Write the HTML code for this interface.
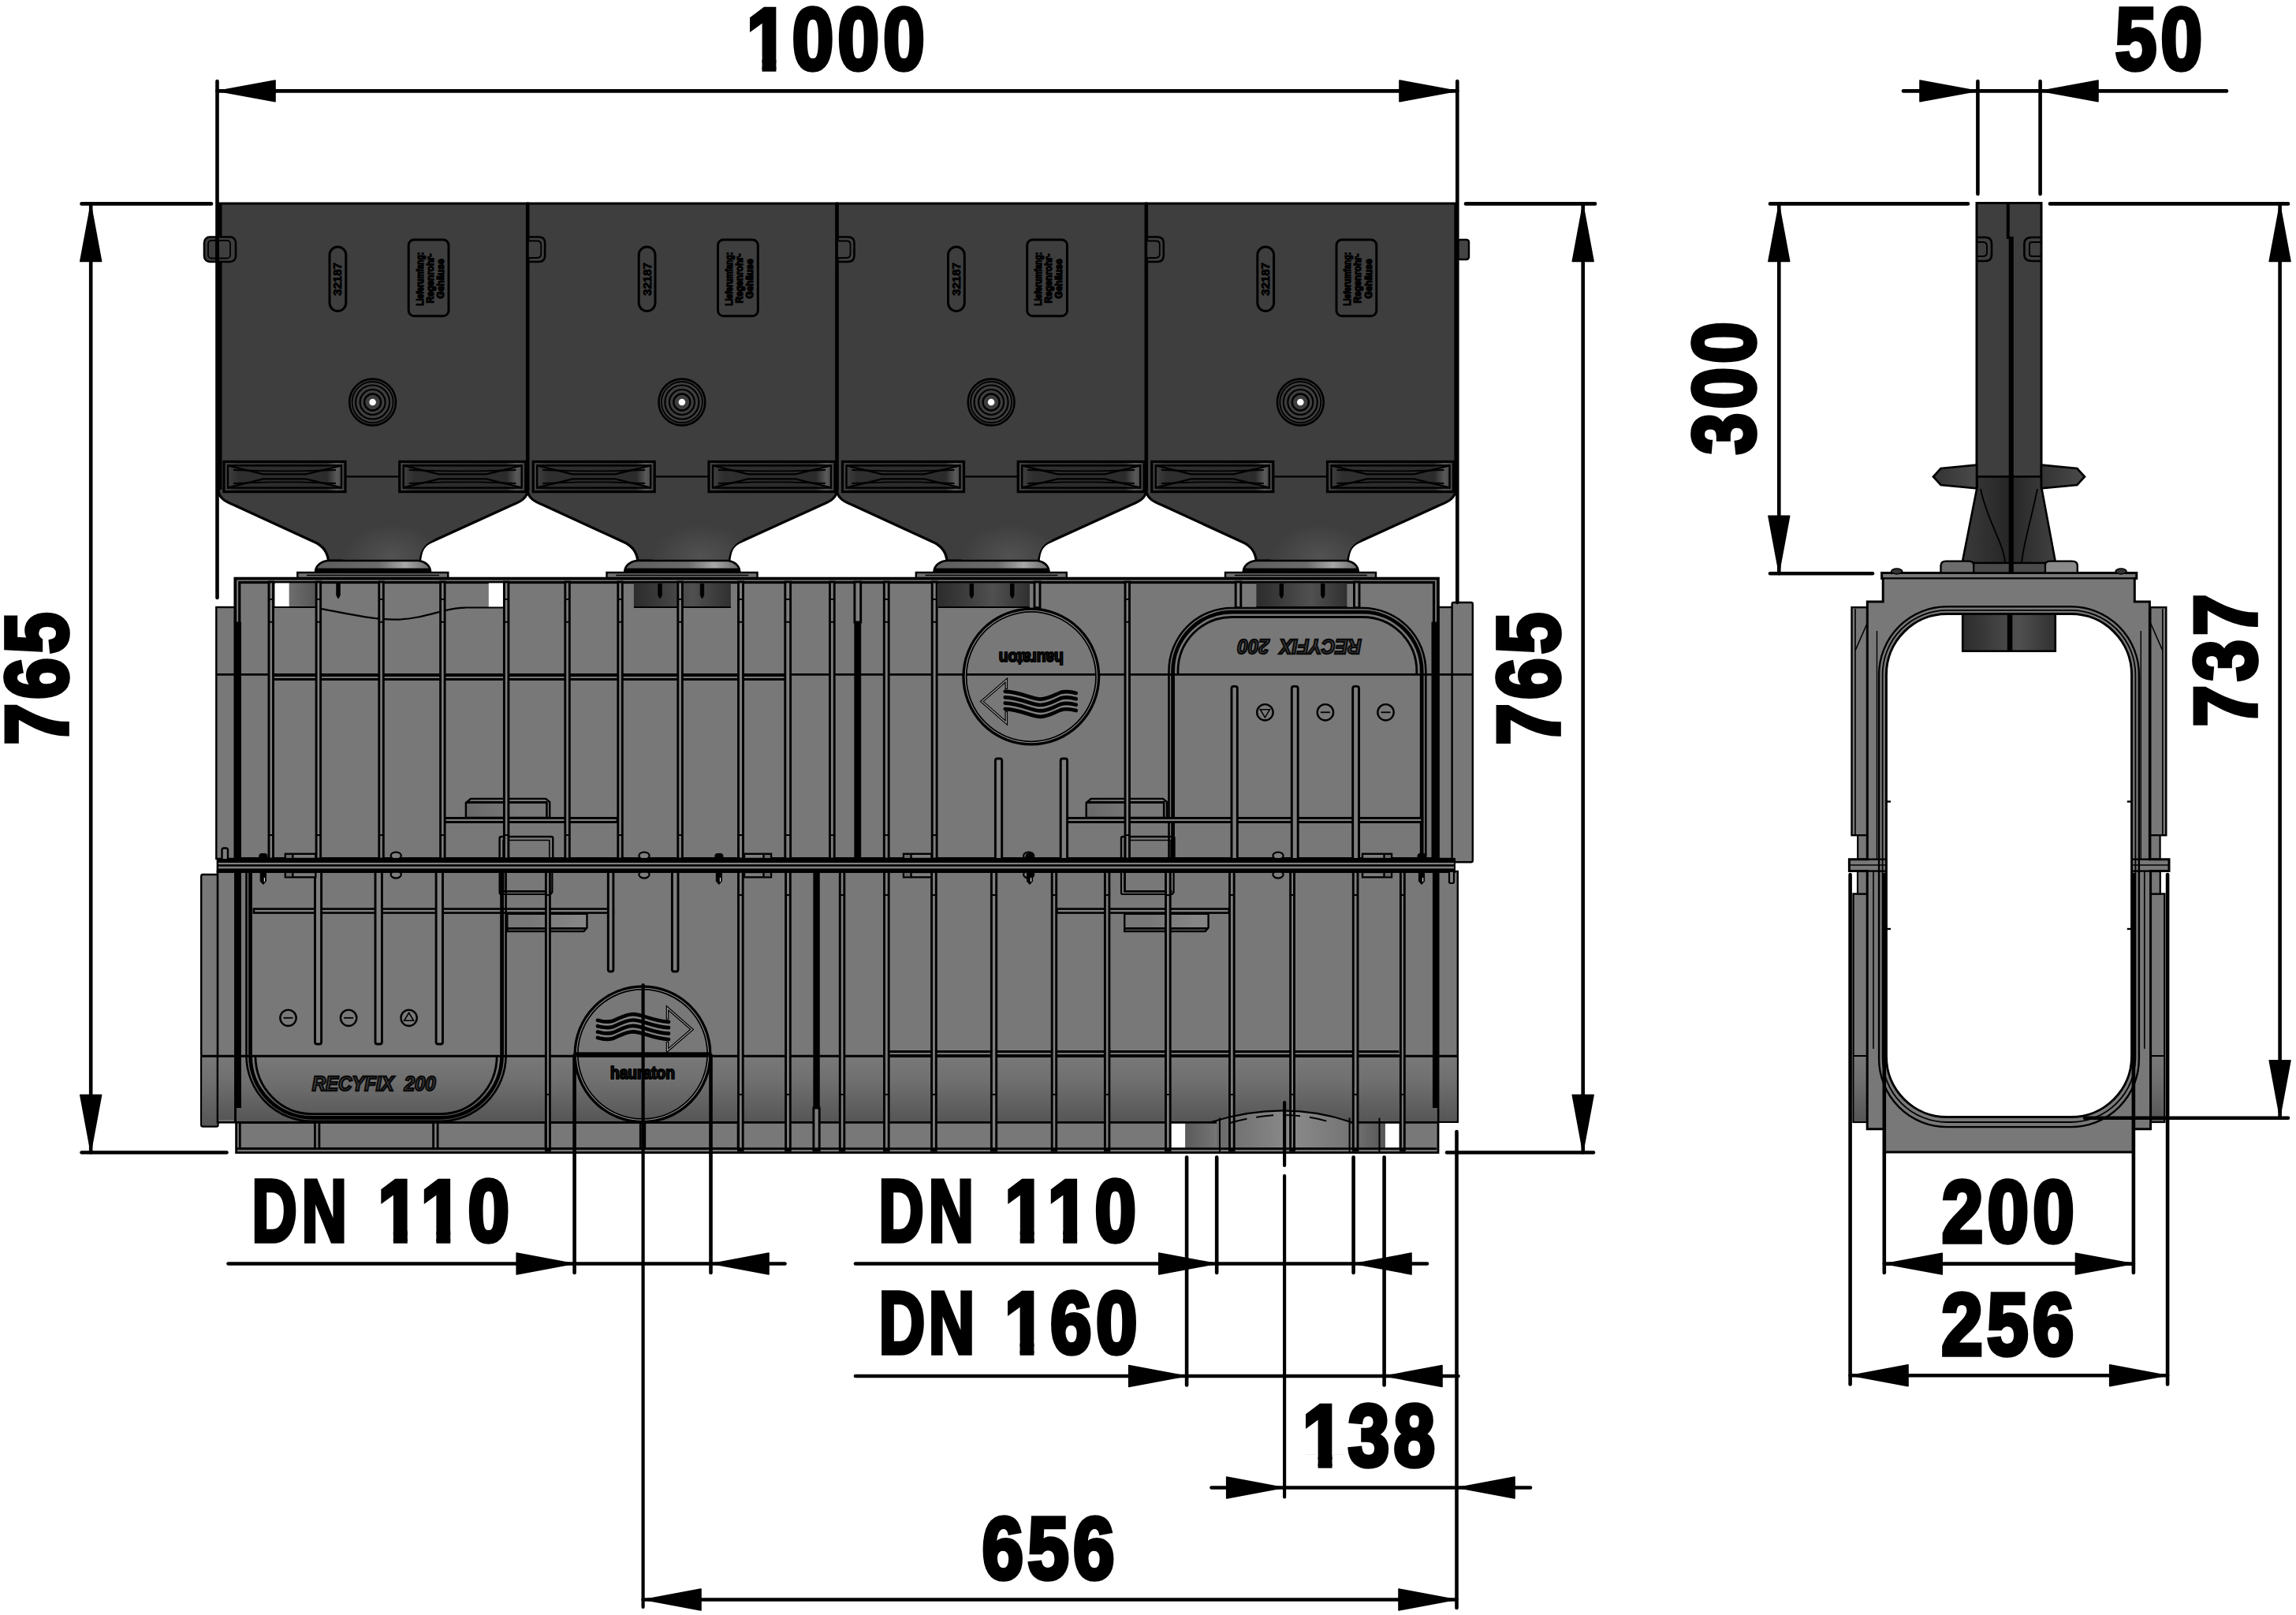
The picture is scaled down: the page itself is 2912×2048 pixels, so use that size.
<!DOCTYPE html>
<html lang="de"><head><meta charset="utf-8"><title>RECYFIX 200 – Maßzeichnung</title>
<style>
html,body{margin:0;padding:0;background:#fff;}
body{width:2912px;height:2048px;overflow:hidden;}
svg{display:block;}
text{font-family:"Liberation Sans",sans-serif;}
</style></head><body>
<svg width="2912" height="2048" viewBox="0 0 2912 2048">
<rect x="0" y="0" width="2912" height="2048" fill="#fff"/>
<defs>
<linearGradient id="gPipe" x1="0" x2="1" y1="0" y2="0"><stop offset="0" stop-color="#2c2c2c"/><stop offset="0.25" stop-color="#3a3a3a"/><stop offset="0.6" stop-color="#505050"/><stop offset="1" stop-color="#303030"/></linearGradient>
<linearGradient id="gStub" x1="0" x2="1" y1="0" y2="0"><stop offset="0" stop-color="#6e6e6e"/><stop offset="1" stop-color="#565656"/></linearGradient>
<linearGradient id="gStub2" x1="0" x2="1" y1="0" y2="0"><stop offset="0" stop-color="#5a5a5a"/><stop offset="1" stop-color="#747474"/></linearGradient>
<linearGradient id="gLow" x1="0" x2="0" y1="0" y2="1"><stop offset="0" stop-color="#787878"/><stop offset="0.35" stop-color="#707070"/><stop offset="1" stop-color="#565656"/></linearGradient>
<linearGradient id="gCollar" x1="0" x2="1" y1="0" y2="0"><stop offset="0" stop-color="#5c5c5c"/><stop offset="0.55" stop-color="#6c6c6c"/><stop offset="0.78" stop-color="#a8a8a8"/><stop offset="1" stop-color="#666"/></linearGradient>
<radialGradient id="gFun" cx="0.5" cy="0.5" r="0.5"><stop offset="0" stop-color="#525252"/><stop offset="1" stop-color="#3e3e3e"/></radialGradient>
<linearGradient id="gSlot" x1="0" x2="1" y1="0" y2="0"><stop offset="0" stop-color="#444"/><stop offset="0.12" stop-color="#2e2e2e"/><stop offset="0.85" stop-color="#2b2b2b"/><stop offset="0.93" stop-color="#5a5a5a"/><stop offset="1" stop-color="#3a3a3a"/></linearGradient>
<linearGradient id="gFin" x1="0" x2="1" y1="0" y2="0"><stop offset="0" stop-color="#333"/><stop offset="1" stop-color="#4a4a4a"/></linearGradient>
<linearGradient id="gCone" x1="0" x2="1" y1="0" y2="0"><stop offset="0" stop-color="#3a3a3a"/><stop offset="0.5" stop-color="#262626"/><stop offset="1" stop-color="#404040"/></linearGradient>
</defs>
<defs>
<clipPath id="clipF0"><path d="M298.0,641 L397.0,686 C411.0,692 415.0,702 416.5,711 H531.5 C533.0,702 535.0,692 547.0,686 L648.2,641 Z"/></clipPath>
<clipPath id="clipF1"><path d="M690.2,641 L789.2,686 C803.2,692 807.2,702 808.8,711 H923.8 C925.2,702 927.2,692 939.2,686 L1040.5,641 Z"/></clipPath>
<clipPath id="clipF2"><path d="M1082.5,641 L1181.5,686 C1195.5,692 1199.5,702 1201.0,711 H1316.0 C1317.5,702 1319.5,692 1331.5,686 L1432.8,641 Z"/></clipPath>
<clipPath id="clipF3"><path d="M1474.8,641 L1573.8,686 C1587.8,692 1591.8,702 1593.2,711 H1708.2 C1709.8,702 1711.8,692 1723.8,686 L1825.0,641 Z"/></clipPath>
</defs>
<rect x="274.3" y="770.0" width="24.0" height="319.0" fill="#787878" stroke="#000" stroke-width="2.4" />
<rect x="1824.0" y="770.0" width="19.0" height="319.0" fill="#787878" stroke="#000" stroke-width="2.4" />
<rect x="1841.6" y="764.0" width="26.2" height="329.3" fill="#787878" stroke="#000" stroke-width="2.4" rx="2" />
<rect x="298.3" y="733.6" width="1525.7" height="355.4" fill="#787878" stroke="#000" stroke-width="3.7" />
<rect x="303.8" y="738.6" width="1514.7" height="350.4" fill="none" stroke="#000" stroke-width="3.2" />
<rect x="348.8" y="739.4" width="18.0" height="30.6" fill="#fff" stroke="none" stroke-width="0" />
<rect x="619.8" y="739.4" width="18.8" height="30.6" fill="#fff" stroke="none" stroke-width="0" />
<rect x="366.8" y="739.4" width="33.5" height="30.6" fill="url(#gStub)" stroke="none" stroke-width="0" />
<line x1="346.0" y1="770.0" x2="400.0" y2="770.0" stroke="#000" stroke-width="2" />
<line x1="590.0" y1="770.6" x2="638.0" y2="770.6" stroke="#000" stroke-width="2" />
<path d="M406.8,771.9 C440,778 470,785.5 500.9,785.7 C525,785.5 545,779 563,774.5 C575,771.5 583,770.6 590,770.6" fill="none" stroke="#000" stroke-width="2.2" />
<rect x="803.9" y="739.4" width="123.0" height="30.6" fill="url(#gPipe)" stroke="none" stroke-width="0" />
<line x1="803.9" y1="770.0" x2="926.9" y2="770.0" stroke="#000" stroke-width="2" />
<rect x="1190.0" y="739.4" width="116.0" height="30.6" fill="url(#gPipe)" stroke="none" stroke-width="0" />
<line x1="1190.0" y1="770.0" x2="1306.0" y2="770.0" stroke="#000" stroke-width="2" />
<rect x="1593.4" y="739.4" width="115.0" height="30.6" fill="url(#gPipe)" stroke="none" stroke-width="0" />
<line x1="1593.4" y1="770.0" x2="1708.4" y2="770.0" stroke="#000" stroke-width="2" />
<path d="M834.8,740 V755 L837,759 L839.2,755 V740" fill="#000" stroke="#000" stroke-width="1" />
<path d="M888.3,740 V755 L890.5,759 L892.7,755 V740" fill="#000" stroke="#000" stroke-width="1" />
<path d="M1230.1,740 V755 L1232.3,759 L1234.5,755 V740" fill="#000" stroke="#000" stroke-width="1" />
<path d="M1281.6,740 V755 L1283.8,759 L1286.0,755 V740" fill="#000" stroke="#000" stroke-width="1" />
<path d="M1623.1,740 V755 L1625.3,759 L1627.5,755 V740" fill="#000" stroke="#000" stroke-width="1" />
<path d="M1675.6,740 V755 L1677.8,759 L1680.0,755 V740" fill="#000" stroke="#000" stroke-width="1" />
<path d="M426.8,740 V755 L429,759 L431.2,755 V740" fill="#000" stroke="#000" stroke-width="1" />
<line x1="274.3" y1="855.4" x2="1867.8" y2="855.4" stroke="#000" stroke-width="2.8" />
<rect x="347.0" y="854.0" width="649.0" height="4.0" fill="#000" stroke="none" stroke-width="0" />
<rect x="347.0" y="860.0" width="649.0" height="3.0" fill="#000" stroke="none" stroke-width="0" />
<path d="M1482.5,1089 V851.0 A80.0,80.0 0 0 1 1562.5,771.0 H1728.3 A80.0,80.0 0 0 1 1808.3,851.0 V1089" fill="none" stroke="#000" stroke-width="2.6" />
<path d="M1487.6,1089 V851.0 A74.9,74.9 0 0 1 1562.5,776.1 H1728.3 A74.9,74.9 0 0 1 1803.2,851.0 V1089" fill="none" stroke="#000" stroke-width="4.8" />
<path d="M1494.0,855.4 V851.0 A68.5,68.5 0 0 1 1562.5,782.5 H1728.3 A68.5,68.5 0 0 1 1796.8,851.0 V855.4" fill="none" stroke="#000" stroke-width="2.8" />
<text transform="translate(1648.3,820.2) rotate(180)" y="9" text-anchor="middle" font-size="25.5" font-style="italic" font-weight="bold" fill="#505050" stroke="#0a0a0a" stroke-width="2.3" textLength="157" lengthAdjust="spacingAndGlyphs" xml:space="preserve">RECYFIX  200</text>
<linearGradient id="gA590" x1="0" x2="1" y1="0" y2="0"><stop offset="0" stop-color="#686868"/><stop offset="0.6" stop-color="#787878"/></linearGradient>
<path d="M590.9,1037 V1018 L596.9,1012.9 H692.2 L697.2,1017 V1037 Z" fill="url(#gA590)" stroke="#000" stroke-width="2.4" />
<line x1="590.9" y1="1017.5" x2="694.2" y2="1017.5" stroke="#000" stroke-width="3" />
<line x1="693.4" y1="1017.0" x2="693.4" y2="1037.0" stroke="#000" stroke-width="2.6" />
<linearGradient id="gA1377" x1="0" x2="1" y1="0" y2="0"><stop offset="0" stop-color="#686868"/><stop offset="0.6" stop-color="#787878"/></linearGradient>
<path d="M1377.7,1037 V1018 L1383.7,1012.9 H1475 L1480,1017 V1037 Z" fill="url(#gA1377)" stroke="#000" stroke-width="2.4" />
<line x1="1377.7" y1="1017.5" x2="1477.0" y2="1017.5" stroke="#000" stroke-width="3" />
<line x1="1476.2" y1="1017.0" x2="1476.2" y2="1037.0" stroke="#000" stroke-width="2.6" />
<path d="M633.6,1089 V1063 Q633.6,1061 635.6,1061 H699.3 Q701.3,1061 701.3,1063 V1089" fill="none" stroke="#000" stroke-width="2.4" />
<path d="M638.1,1089 V1065.5 H696.8 V1089" fill="none" stroke="#000" stroke-width="1.6" />
<path d="M1422,1089 V1063 Q1422,1061 1424,1061 H1487.5 Q1489.5,1061 1489.5,1063 V1089" fill="none" stroke="#000" stroke-width="2.4" />
<path d="M1426.5,1089 V1065.5 H1485.0 V1089" fill="none" stroke="#000" stroke-width="1.6" />
<rect x="563.6" y="1037.4" width="219.4" height="5.1" fill="#808080" stroke="#000" stroke-width="2.9" />
<rect x="1353.6" y="1037.4" width="450.1" height="5.1" fill="#808080" stroke="#000" stroke-width="2.9" />
<rect x="341.0" y="738.0" width="5.5" height="351.0" fill="#7e7e7e" stroke="#000" stroke-width="2.9" />
<rect x="401.1" y="738.0" width="5.5" height="351.0" fill="#7e7e7e" stroke="#000" stroke-width="2.9" />
<rect x="480.8" y="738.0" width="5.5" height="351.0" fill="#7e7e7e" stroke="#000" stroke-width="2.9" />
<rect x="558.6" y="738.0" width="5.5" height="351.0" fill="#7e7e7e" stroke="#000" stroke-width="2.9" />
<rect x="639.4" y="738.0" width="5.5" height="351.0" fill="#7e7e7e" stroke="#000" stroke-width="2.9" />
<rect x="716.8" y="738.0" width="5.5" height="351.0" fill="#7e7e7e" stroke="#000" stroke-width="2.9" />
<rect x="783.8" y="738.0" width="5.5" height="351.0" fill="#7e7e7e" stroke="#000" stroke-width="2.9" />
<rect x="859.8" y="738.0" width="5.6" height="351.0" fill="#7e7e7e" stroke="#000" stroke-width="2.9" />
<rect x="936.5" y="738.0" width="6.0" height="351.0" fill="#7e7e7e" stroke="#000" stroke-width="2.9" />
<rect x="995.8" y="738.0" width="6.8" height="351.0" fill="#7e7e7e" stroke="#000" stroke-width="2.9" />
<rect x="1052.5" y="738.0" width="5.7" height="351.0" fill="#7e7e7e" stroke="#000" stroke-width="2.9" />
<rect x="1121.3" y="738.0" width="5.9" height="351.0" fill="#7e7e7e" stroke="#000" stroke-width="2.9" />
<rect x="1182.2" y="738.0" width="5.9" height="351.0" fill="#7e7e7e" stroke="#000" stroke-width="2.9" />
<rect x="1427.0" y="738.0" width="5.5" height="351.0" fill="#7e7e7e" stroke="#000" stroke-width="2.9" />
<rect x="1312.0" y="738.0" width="7.0" height="32.6" fill="#7e7e7e" stroke="#000" stroke-width="2.9" />
<rect x="1567.2" y="738.0" width="6.6" height="32.6" fill="#7e7e7e" stroke="#000" stroke-width="2.9" />
<rect x="1717.5" y="738.0" width="6.5" height="32.6" fill="#7e7e7e" stroke="#000" stroke-width="2.9" />
<line x1="341.0" y1="760.0" x2="346.5" y2="760.0" stroke="#000" stroke-width="2" />
<line x1="341.0" y1="788.8" x2="346.5" y2="788.8" stroke="#000" stroke-width="2" />
<line x1="341.0" y1="1059.0" x2="346.5" y2="1059.0" stroke="#000" stroke-width="2" />
<line x1="401.1" y1="760.0" x2="406.6" y2="760.0" stroke="#000" stroke-width="2" />
<line x1="401.1" y1="788.8" x2="406.6" y2="788.8" stroke="#000" stroke-width="2" />
<line x1="401.1" y1="1059.0" x2="406.6" y2="1059.0" stroke="#000" stroke-width="2" />
<line x1="480.8" y1="760.0" x2="486.3" y2="760.0" stroke="#000" stroke-width="2" />
<line x1="480.8" y1="788.8" x2="486.3" y2="788.8" stroke="#000" stroke-width="2" />
<line x1="480.8" y1="1059.0" x2="486.3" y2="1059.0" stroke="#000" stroke-width="2" />
<line x1="558.6" y1="760.0" x2="564.1" y2="760.0" stroke="#000" stroke-width="2" />
<line x1="558.6" y1="788.8" x2="564.1" y2="788.8" stroke="#000" stroke-width="2" />
<line x1="558.6" y1="1059.0" x2="564.1" y2="1059.0" stroke="#000" stroke-width="2" />
<line x1="639.4" y1="760.0" x2="644.9" y2="760.0" stroke="#000" stroke-width="2" />
<line x1="639.4" y1="788.8" x2="644.9" y2="788.8" stroke="#000" stroke-width="2" />
<line x1="639.4" y1="1059.0" x2="644.9" y2="1059.0" stroke="#000" stroke-width="2" />
<line x1="716.8" y1="760.0" x2="722.3" y2="760.0" stroke="#000" stroke-width="2" />
<line x1="716.8" y1="788.8" x2="722.3" y2="788.8" stroke="#000" stroke-width="2" />
<line x1="716.8" y1="1059.0" x2="722.3" y2="1059.0" stroke="#000" stroke-width="2" />
<line x1="783.8" y1="760.0" x2="789.3" y2="760.0" stroke="#000" stroke-width="2" />
<line x1="783.8" y1="788.8" x2="789.3" y2="788.8" stroke="#000" stroke-width="2" />
<line x1="783.8" y1="1059.0" x2="789.3" y2="1059.0" stroke="#000" stroke-width="2" />
<line x1="859.8" y1="760.0" x2="865.4" y2="760.0" stroke="#000" stroke-width="2" />
<line x1="859.8" y1="788.8" x2="865.4" y2="788.8" stroke="#000" stroke-width="2" />
<line x1="859.8" y1="1059.0" x2="865.4" y2="1059.0" stroke="#000" stroke-width="2" />
<line x1="936.5" y1="760.0" x2="942.5" y2="760.0" stroke="#000" stroke-width="2" />
<line x1="936.5" y1="788.8" x2="942.5" y2="788.8" stroke="#000" stroke-width="2" />
<line x1="936.5" y1="1059.0" x2="942.5" y2="1059.0" stroke="#000" stroke-width="2" />
<line x1="995.8" y1="760.0" x2="1002.6" y2="760.0" stroke="#000" stroke-width="2" />
<line x1="995.8" y1="788.8" x2="1002.6" y2="788.8" stroke="#000" stroke-width="2" />
<line x1="995.8" y1="1059.0" x2="1002.6" y2="1059.0" stroke="#000" stroke-width="2" />
<line x1="1052.5" y1="760.0" x2="1058.2" y2="760.0" stroke="#000" stroke-width="2" />
<line x1="1052.5" y1="788.8" x2="1058.2" y2="788.8" stroke="#000" stroke-width="2" />
<line x1="1052.5" y1="1059.0" x2="1058.2" y2="1059.0" stroke="#000" stroke-width="2" />
<line x1="1121.3" y1="760.0" x2="1127.2" y2="760.0" stroke="#000" stroke-width="2" />
<line x1="1121.3" y1="788.8" x2="1127.2" y2="788.8" stroke="#000" stroke-width="2" />
<line x1="1121.3" y1="1059.0" x2="1127.2" y2="1059.0" stroke="#000" stroke-width="2" />
<line x1="1182.2" y1="760.0" x2="1188.1" y2="760.0" stroke="#000" stroke-width="2" />
<line x1="1182.2" y1="788.8" x2="1188.1" y2="788.8" stroke="#000" stroke-width="2" />
<line x1="1182.2" y1="1059.0" x2="1188.1" y2="1059.0" stroke="#000" stroke-width="2" />
<line x1="1427.0" y1="760.0" x2="1432.5" y2="760.0" stroke="#000" stroke-width="2" />
<line x1="1427.0" y1="788.8" x2="1432.5" y2="788.8" stroke="#000" stroke-width="2" />
<line x1="1427.0" y1="1059.0" x2="1432.5" y2="1059.0" stroke="#000" stroke-width="2" />
<rect x="1083.9" y="738.0" width="7.8" height="51.0" fill="#7e7e7e" stroke="#000" stroke-width="2.9" />
<rect x="1083.9" y="789.0" width="7.8" height="300.0" fill="#000" stroke="#000" stroke-width="1" />
<rect x="299.0" y="789.0" width="6.4" height="300.0" fill="#000" stroke="#000" stroke-width="1" />
<rect x="1816.0" y="789.0" width="6.4" height="300.0" fill="#000" stroke="#000" stroke-width="1" />
<path d="M1562,1089 V873 Q1562,870.4 1564.5,870.4 H1566.8 Q1569.3,870.4 1569.3,873 V1089" fill="#7e7e7e" stroke="#000" stroke-width="2.9" />
<path d="M1638.3,1089 V873 Q1638.3,870.4 1640.8,870.4 H1643.7 Q1646.2,870.4 1646.2,873 V1089" fill="#7e7e7e" stroke="#000" stroke-width="2.9" />
<path d="M1715.7,1089 V873 Q1715.7,870.4 1718.2,870.4 H1721.0 Q1723.5,870.4 1723.5,873 V1089" fill="#7e7e7e" stroke="#000" stroke-width="2.9" />
<path d="M1262.4,1089 V964.5 Q1262.4,962 1264.9,962 H1268.2 Q1270.7,962 1270.7,964.5 V1089" fill="#7e7e7e" stroke="#000" stroke-width="2.9" />
<path d="M1345.2,1089 V964.5 Q1345.2,962 1347.7,962 H1351.1 Q1353.6,962 1353.6,964.5 V1089" fill="#7e7e7e" stroke="#000" stroke-width="2.9" />
<circle cx="1604.4" cy="903.3" r="10.2" fill="none" stroke="#000" stroke-width="2.4"/>
<path d="M1598.4,899.8 H1610.4 L1604.4,909.8 Z" fill="none" stroke="#000" stroke-width="1.6" />
<circle cx="1680.9" cy="903.3" r="10.2" fill="none" stroke="#000" stroke-width="2.4"/>
<line x1="1674.9" y1="903.3" x2="1686.9" y2="903.3" stroke="#000" stroke-width="1.8" />
<circle cx="1757.5" cy="903.3" r="10.2" fill="none" stroke="#000" stroke-width="2.4"/>
<line x1="1751.5" y1="903.3" x2="1763.5" y2="903.3" stroke="#000" stroke-width="1.8" />
<circle cx="1307.8" cy="858.1" r="84.4" fill="none" stroke="#000" stroke-width="6.2"/>
<circle cx="1307.8" cy="858.1" r="83.6" fill="none" stroke="#8c8c8c" stroke-width="1.1"/>
<g transform="translate(1307.8,858.1) rotate(180)" fill="none" stroke="#000">
<path d="M-57,-43.0 C-50,-41.0 -44,-40.5 -38,-42.0 C-28,-46.0 -22,-50.5 -12,-50.7 C0,-50.7 12,-42.0 33,-41.0" stroke-width="4.7" stroke-linecap="round"/>
<path d="M-57,-35.6 C-50,-33.6 -44,-33.1 -38,-34.6 C-28,-38.6 -22,-43.1 -12,-43.3 C0,-43.3 12,-34.6 33,-33.6" stroke-width="4.7" stroke-linecap="round"/>
<path d="M-57,-28.2 C-50,-26.2 -44,-25.7 -38,-27.2 C-28,-31.2 -22,-35.7 -12,-35.9 C0,-35.9 12,-27.2 33,-26.2" stroke-width="4.7" stroke-linecap="round"/>
<path d="M-57,-20.8 C-50,-18.8 -44,-18.3 -38,-19.8 C-28,-23.8 -22,-28.3 -12,-28.5 C0,-28.5 12,-19.8 33,-18.8" stroke-width="4.7" stroke-linecap="round"/>
<path d="M-56,-39.3 C-50,-37.3 -44,-36.8 -38,-38.3 C-28,-42.3 -22,-46.8 -12,-47.0 C0,-47.0 12,-38.3 32,-37.3" stroke-width="1" stroke="#8a8a8a"/>
<path d="M-56,-31.9 C-50,-29.9 -44,-29.4 -38,-30.9 C-28,-34.9 -22,-39.4 -12,-39.6 C0,-39.6 12,-30.9 32,-29.9" stroke-width="1" stroke="#8a8a8a"/>
<path d="M-56,-24.5 C-50,-22.5 -44,-22.0 -38,-23.5 C-28,-27.5 -22,-32.0 -12,-32.2 C0,-32.2 12,-23.5 32,-22.5" stroke-width="1" stroke="#8a8a8a"/>
<path d="M31.5,-44 V-58.5 L62.5,-31.4 L31.5,-4.5 V-16" stroke-width="3.6" stroke-linejoin="miter"/>
<path d="M31.5,-45 V-58.5 L62.5,-31.4 L31.5,-4.5 V-15" stroke-width="1.2" stroke="#9a9a9a" stroke-linejoin="miter"/>
<text x="0" y="31.5" text-anchor="middle" font-size="21.5" font-weight="bold" fill="#222" stroke="#000" stroke-width="2.1" stroke-linejoin="round" textLength="82" lengthAdjust="spacingAndGlyphs">hauraton</text>
</g>
<rect x="255.2" y="1109.0" width="21.3" height="319.5" fill="#787878" stroke="#000" stroke-width="2.4" rx="2" />
<rect x="256.4" y="1339.0" width="18.9" height="88.3" fill="url(#gLow)" stroke="none" stroke-width="0" />
<rect x="276.0" y="1105.0" width="22.3" height="318.3" fill="#787878" stroke="#000" stroke-width="2.6" />
<rect x="277.2" y="1339.0" width="19.8" height="81.3" fill="url(#gLow)" stroke="none" stroke-width="0" />
<rect x="1824.0" y="1105.0" width="24.8" height="317.8" fill="#787878" stroke="#000" stroke-width="2.4" />
<rect x="1825.2" y="1339.0" width="22.4" height="82.6" fill="url(#gLow)" stroke="none" stroke-width="0" />
<rect x="299.6" y="1105.0" width="1524.4" height="356.7" fill="#787878" stroke="#000" stroke-width="2.8" />
<rect x="300.0" y="1340.6" width="1522.3" height="81.7" fill="url(#gLow)" stroke="none" stroke-width="0" />
<rect x="1485.0" y="1424.5" width="18.3" height="31.5" fill="#fff" stroke="none" stroke-width="0" />
<rect x="1756.8" y="1424.5" width="17.5" height="31.5" fill="#fff" stroke="none" stroke-width="0" />
<rect x="1503.3" y="1424.5" width="38.4" height="31.5" fill="url(#gStub2)" stroke="none" stroke-width="0" />
<rect x="1722.8" y="1424.5" width="34.0" height="31.5" fill="url(#gStub)" stroke="none" stroke-width="0" />
<rect x="1566.0" y="1424.5" width="149.5" height="31.5" fill="#727272" stroke="none" stroke-width="0" />
<path d="M633.6,1105 V1132 Q633.6,1134 635.6,1134 H698.3 L700.4,1131.5 V1105" fill="none" stroke="#000" stroke-width="2.2" />
<path d="M638.1,1105 V1130.4 H698.3" fill="none" stroke="#000" stroke-width="2.8" />
<path d="M1422,1105 V1132 Q1422,1134 1424,1134 H1486.5 L1488.6,1131.5 V1105" fill="none" stroke="#000" stroke-width="2.2" />
<path d="M1426.5,1105 V1130.4 H1486.5" fill="none" stroke="#000" stroke-width="2.8" />
<linearGradient id="gC643" x1="0" x2="1" y1="0" y2="0"><stop offset="0.3" stop-color="#787878"/><stop offset="0.85" stop-color="#858585"/></linearGradient>
<path d="M643.3,1158.8 V1181 H740.5 L744.5,1176.5 V1158.8 Z" fill="url(#gC643)" stroke="#000" stroke-width="2.4" />
<line x1="643.3" y1="1177.4" x2="743.5" y2="1177.4" stroke="#000" stroke-width="2.8" />
<linearGradient id="gC1426" x1="0" x2="1" y1="0" y2="0"><stop offset="0.3" stop-color="#787878"/><stop offset="0.85" stop-color="#858585"/></linearGradient>
<path d="M1426.2,1158.8 V1181 H1528.6 L1532.6,1176.5 V1158.8 Z" fill="url(#gC1426)" stroke="#000" stroke-width="2.4" />
<line x1="1426.2" y1="1177.4" x2="1531.6" y2="1177.4" stroke="#000" stroke-width="2.8" />
<line x1="255.2" y1="1339.3" x2="1848.8" y2="1339.3" stroke="#000" stroke-width="2.9" />
<line x1="298.3" y1="1423.4" x2="1824.0" y2="1423.4" stroke="#000" stroke-width="2.6" />
<linearGradient id="gArc" x1="0" x2="1" y1="0" y2="0"><stop offset="0" stop-color="#6a6a6a"/><stop offset="0.55" stop-color="#8a8a8a"/><stop offset="1" stop-color="#747474"/></linearGradient>
<path d="M1543,1421 Q1629.3,1395.6 1712.9,1422.8 V1455 H1543 Z" fill="url(#gArc)" stroke="none" stroke-width="0" />
<rect x="321.9" y="1152.6" width="456.0" height="5.0" fill="#808080" stroke="#000" stroke-width="2.6" />
<rect x="1340.5" y="1152.6" width="218.2" height="5.0" fill="#808080" stroke="#000" stroke-width="2.6" />
<line x1="1128.0" y1="1333.5" x2="1774.3" y2="1333.5" stroke="#000" stroke-width="2.9" />
<rect x="1128.0" y="1337.1" width="646.3" height="3.7" fill="#000" stroke="none" stroke-width="0" />
<rect x="692.4" y="1105.0" width="5.0" height="354.0" fill="#7e7e7e" stroke="#000" stroke-width="2.9" />
<line x1="692.4" y1="1135.0" x2="697.4" y2="1135.0" stroke="#000" stroke-width="2" />
<line x1="692.4" y1="1388.0" x2="697.4" y2="1388.0" stroke="#000" stroke-width="2" />
<rect x="936.5" y="1105.0" width="5.7" height="354.0" fill="#7e7e7e" stroke="#000" stroke-width="2.9" />
<line x1="936.5" y1="1135.0" x2="942.2" y2="1135.0" stroke="#000" stroke-width="2" />
<line x1="936.5" y1="1388.0" x2="942.2" y2="1388.0" stroke="#000" stroke-width="2" />
<rect x="996.6" y="1105.0" width="5.7" height="354.0" fill="#7e7e7e" stroke="#000" stroke-width="2.9" />
<line x1="996.6" y1="1135.0" x2="1002.3" y2="1135.0" stroke="#000" stroke-width="2" />
<line x1="996.6" y1="1388.0" x2="1002.3" y2="1388.0" stroke="#000" stroke-width="2" />
<rect x="1065.3" y="1105.0" width="5.5" height="354.0" fill="#7e7e7e" stroke="#000" stroke-width="2.9" />
<line x1="1065.3" y1="1135.0" x2="1070.8" y2="1135.0" stroke="#000" stroke-width="2" />
<line x1="1065.3" y1="1388.0" x2="1070.8" y2="1388.0" stroke="#000" stroke-width="2" />
<rect x="1121.5" y="1105.0" width="5.7" height="354.0" fill="#7e7e7e" stroke="#000" stroke-width="2.9" />
<line x1="1121.5" y1="1135.0" x2="1127.2" y2="1135.0" stroke="#000" stroke-width="2" />
<line x1="1121.5" y1="1388.0" x2="1127.2" y2="1388.0" stroke="#000" stroke-width="2" />
<rect x="1181.6" y="1105.0" width="5.7" height="354.0" fill="#7e7e7e" stroke="#000" stroke-width="2.9" />
<line x1="1181.6" y1="1135.0" x2="1187.3" y2="1135.0" stroke="#000" stroke-width="2" />
<line x1="1181.6" y1="1388.0" x2="1187.3" y2="1388.0" stroke="#000" stroke-width="2" />
<rect x="1257.4" y="1105.0" width="6.3" height="354.0" fill="#7e7e7e" stroke="#000" stroke-width="2.9" />
<line x1="1257.4" y1="1135.0" x2="1263.7" y2="1135.0" stroke="#000" stroke-width="2" />
<line x1="1257.4" y1="1388.0" x2="1263.7" y2="1388.0" stroke="#000" stroke-width="2" />
<rect x="1334.2" y="1105.0" width="5.5" height="354.0" fill="#7e7e7e" stroke="#000" stroke-width="2.9" />
<line x1="1334.2" y1="1135.0" x2="1339.7" y2="1135.0" stroke="#000" stroke-width="2" />
<line x1="1334.2" y1="1388.0" x2="1339.7" y2="1388.0" stroke="#000" stroke-width="2" />
<rect x="1401.4" y="1105.0" width="5.5" height="354.0" fill="#7e7e7e" stroke="#000" stroke-width="2.9" />
<line x1="1401.4" y1="1135.0" x2="1406.9" y2="1135.0" stroke="#000" stroke-width="2" />
<line x1="1401.4" y1="1388.0" x2="1406.9" y2="1388.0" stroke="#000" stroke-width="2" />
<rect x="1478.5" y="1105.0" width="5.7" height="354.0" fill="#7e7e7e" stroke="#000" stroke-width="2.9" />
<line x1="1478.5" y1="1135.0" x2="1484.2" y2="1135.0" stroke="#000" stroke-width="2" />
<line x1="1478.5" y1="1388.0" x2="1484.2" y2="1388.0" stroke="#000" stroke-width="2" />
<rect x="1559.5" y="1105.0" width="5.7" height="354.0" fill="#7e7e7e" stroke="#000" stroke-width="2.9" />
<line x1="1559.5" y1="1135.0" x2="1565.2" y2="1135.0" stroke="#000" stroke-width="2" />
<line x1="1559.5" y1="1388.0" x2="1565.2" y2="1388.0" stroke="#000" stroke-width="2" />
<rect x="1636.6" y="1105.0" width="4.9" height="354.0" fill="#7e7e7e" stroke="#000" stroke-width="2.9" />
<line x1="1636.6" y1="1135.0" x2="1641.5" y2="1135.0" stroke="#000" stroke-width="2" />
<line x1="1636.6" y1="1388.0" x2="1641.5" y2="1388.0" stroke="#000" stroke-width="2" />
<rect x="1716.3" y="1105.0" width="5.7" height="354.0" fill="#7e7e7e" stroke="#000" stroke-width="2.9" />
<line x1="1716.3" y1="1135.0" x2="1722.0" y2="1135.0" stroke="#000" stroke-width="2" />
<line x1="1716.3" y1="1388.0" x2="1722.0" y2="1388.0" stroke="#000" stroke-width="2" />
<rect x="1776.4" y="1105.0" width="4.9" height="354.0" fill="#7e7e7e" stroke="#000" stroke-width="2.9" />
<line x1="1776.4" y1="1135.0" x2="1781.3" y2="1135.0" stroke="#000" stroke-width="2" />
<line x1="1776.4" y1="1388.0" x2="1781.3" y2="1388.0" stroke="#000" stroke-width="2" />
<rect x="1031.9" y="1105.0" width="7.3" height="300.0" fill="#000" stroke="#000" stroke-width="1" />
<rect x="1031.9" y="1405.0" width="7.3" height="54.0" fill="#7e7e7e" stroke="#000" stroke-width="2.9" />
<rect x="299.0" y="1105.0" width="6.4" height="299.5" fill="#000" stroke="#000" stroke-width="1" />
<rect x="1817.4" y="1105.0" width="6.6" height="299.5" fill="#000" stroke="#000" stroke-width="1" />
<rect x="304.3" y="1423.4" width="95.1" height="33.2" fill="none" stroke="#000" stroke-width="2.8" />
<rect x="404.9" y="1423.4" width="144.7" height="33.2" fill="none" stroke="#000" stroke-width="2.8" />
<rect x="555.1" y="1423.4" width="136.9" height="33.2" fill="none" stroke="#000" stroke-width="2.8" />
<rect x="697.6" y="1423.4" width="114.7" height="33.2" fill="none" stroke="#000" stroke-width="2.8" />
<rect x="817.8" y="1423.4" width="118.3" height="33.2" fill="none" stroke="#000" stroke-width="2.8" />
<line x1="300.0" y1="1456.6" x2="1822.0" y2="1456.6" stroke="#000" stroke-width="2.8" />
<path d="M312.5,1105 V1338.8 A83.0,83.0 0 0 0 395.5,1421.8 H558.6 A83.0,83.0 0 0 0 641.6,1338.8 V1105" fill="none" stroke="#000" stroke-width="2.6" />
<path d="M317.5,1105 V1338.8 A78.0,78.6 0 0 0 395.5,1417.4 H558.6 A78.0,78.6 0 0 0 636.6,1338.8 V1105" fill="none" stroke="#000" stroke-width="4.8" />
<path d="M323.9,1339.3 V1338.8 A71.6,73.8 0 0 0 395.5,1412.6 H558.6 A71.6,73.8 0 0 0 630.2,1338.8 V1339.3" fill="none" stroke="#000" stroke-width="2.8" />
<path d="M399.5,1105 V1321.5 Q399.5,1324 402.0,1324 H405.1 Q407.6,1324 407.6,1321.5 V1105" fill="#7e7e7e" stroke="#000" stroke-width="2.9" />
<path d="M476,1105 V1321.5 Q476,1324 478.5,1324 H481.9 Q484.4,1324 484.4,1321.5 V1105" fill="#7e7e7e" stroke="#000" stroke-width="2.9" />
<path d="M553.1,1105 V1321.5 Q553.1,1324 555.6,1324 H559.0 Q561.5,1324 561.5,1321.5 V1105" fill="#7e7e7e" stroke="#000" stroke-width="2.9" />
<path d="M771.3,1105 V1229.5 Q771.3,1232 773.8,1232 H775.4 Q777.9,1232 777.9,1229.5 V1105" fill="#7e7e7e" stroke="#000" stroke-width="2.9" />
<path d="M852.4,1105 V1229.5 Q852.4,1232 854.9,1232 H857.5 Q860,1232 860,1229.5 V1105" fill="#7e7e7e" stroke="#000" stroke-width="2.9" />
<circle cx="365.5" cy="1290.8" r="10.2" fill="none" stroke="#000" stroke-width="2.4"/>
<line x1="359.5" y1="1290.8" x2="371.5" y2="1290.8" stroke="#000" stroke-width="1.8" />
<circle cx="442.1" cy="1290.8" r="10.2" fill="none" stroke="#000" stroke-width="2.4"/>
<line x1="436.1" y1="1290.8" x2="448.1" y2="1290.8" stroke="#000" stroke-width="1.8" />
<circle cx="518.6" cy="1290.8" r="10.2" fill="none" stroke="#000" stroke-width="2.4"/>
<path d="M512.6,1294.3 H524.6 L518.6,1284.3 Z" fill="none" stroke="#000" stroke-width="1.6" />
<text x="474.2" y="1383.4" text-anchor="middle" font-size="25.5" font-style="italic" font-weight="bold" fill="#505050" stroke="#0a0a0a" stroke-width="2.3" textLength="157" lengthAdjust="spacingAndGlyphs" xml:space="preserve">RECYFIX  200</text>
<circle cx="815.0" cy="1336.8" r="84.4" fill="none" stroke="#000" stroke-width="6.2"/>
<circle cx="815.0" cy="1336.8" r="83.6" fill="none" stroke="#8c8c8c" stroke-width="1.1"/>
<g transform="translate(815,1336.8)" fill="none" stroke="#000">
<path d="M-57,-43.0 C-50,-41.0 -44,-40.5 -38,-42.0 C-28,-46.0 -22,-50.5 -12,-50.7 C0,-50.7 12,-42.0 33,-41.0" stroke-width="4.7" stroke-linecap="round"/>
<path d="M-57,-35.6 C-50,-33.6 -44,-33.1 -38,-34.6 C-28,-38.6 -22,-43.1 -12,-43.3 C0,-43.3 12,-34.6 33,-33.6" stroke-width="4.7" stroke-linecap="round"/>
<path d="M-57,-28.2 C-50,-26.2 -44,-25.7 -38,-27.2 C-28,-31.2 -22,-35.7 -12,-35.9 C0,-35.9 12,-27.2 33,-26.2" stroke-width="4.7" stroke-linecap="round"/>
<path d="M-57,-20.8 C-50,-18.8 -44,-18.3 -38,-19.8 C-28,-23.8 -22,-28.3 -12,-28.5 C0,-28.5 12,-19.8 33,-18.8" stroke-width="4.7" stroke-linecap="round"/>
<path d="M-56,-39.3 C-50,-37.3 -44,-36.8 -38,-38.3 C-28,-42.3 -22,-46.8 -12,-47.0 C0,-47.0 12,-38.3 32,-37.3" stroke-width="1" stroke="#8a8a8a"/>
<path d="M-56,-31.9 C-50,-29.9 -44,-29.4 -38,-30.9 C-28,-34.9 -22,-39.4 -12,-39.6 C0,-39.6 12,-30.9 32,-29.9" stroke-width="1" stroke="#8a8a8a"/>
<path d="M-56,-24.5 C-50,-22.5 -44,-22.0 -38,-23.5 C-28,-27.5 -22,-32.0 -12,-32.2 C0,-32.2 12,-23.5 32,-22.5" stroke-width="1" stroke="#8a8a8a"/>
<path d="M31.5,-44 V-58.5 L62.5,-31.4 L31.5,-4.5 V-16" stroke-width="3.6" stroke-linejoin="miter"/>
<path d="M31.5,-45 V-58.5 L62.5,-31.4 L31.5,-4.5 V-15" stroke-width="1.2" stroke="#9a9a9a" stroke-linejoin="miter"/>
<text x="0" y="31.5" text-anchor="middle" font-size="21.5" font-weight="bold" fill="#222" stroke="#000" stroke-width="2.1" stroke-linejoin="round" textLength="82" lengthAdjust="spacingAndGlyphs">hauraton</text>
</g>
<rect x="729.0" y="1334.3" width="172.0" height="6.0" fill="#000" stroke="none" stroke-width="0" />
<path d="M1536.5,1422.8 Q1629.3,1394 1712.9,1422.8" fill="none" stroke="#000" stroke-width="2.2" />
<path d="M1560,1424 Q1629.3,1404 1690,1424" fill="none" stroke="#000" stroke-width="2" stroke-dasharray="22 12"/>
<line x1="1547.0" y1="1417.6" x2="1547.0" y2="1461.0" stroke="#000" stroke-width="2" />
<line x1="1711.6" y1="1417.6" x2="1711.6" y2="1461.0" stroke="#000" stroke-width="2" />
<line x1="1749.5" y1="1417.6" x2="1749.5" y2="1461.0" stroke="#000" stroke-width="2" />
<rect x="274.8" y="1088.0" width="1571.2" height="18.8" fill="#000" stroke="none" stroke-width="0" />
<rect x="277.0" y="1094.0" width="1567.0" height="2.2" fill="#808080" stroke="none" stroke-width="0" />
<rect x="277.0" y="1098.8" width="1567.0" height="2.6" fill="#808080" stroke="none" stroke-width="0" />
<rect x="361.8" y="1082.8" width="38.5" height="6.2" fill="#7e7e7e" stroke="#000" stroke-width="2.4" />
<rect x="361.8" y="1106.0" width="38.5" height="6.4" fill="#7e7e7e" stroke="#000" stroke-width="2.4" />
<rect x="363.0" y="1084.0" width="7.0" height="4.0" fill="#6a6a6a" stroke="none" stroke-width="0" />
<rect x="363.0" y="1107.0" width="7.0" height="4.2" fill="#6a6a6a" stroke="none" stroke-width="0" />
<line x1="371.3" y1="1083.0" x2="371.3" y2="1088.5" stroke="#000" stroke-width="2.4" />
<line x1="371.3" y1="1106.5" x2="371.3" y2="1112.0" stroke="#000" stroke-width="2.4" />
<rect x="944.0" y="1082.8" width="34.0" height="6.2" fill="#7e7e7e" stroke="#000" stroke-width="2.4" />
<rect x="944.0" y="1106.0" width="34.0" height="6.4" fill="#7e7e7e" stroke="#000" stroke-width="2.4" />
<rect x="969.8" y="1084.0" width="7.0" height="4.0" fill="#6a6a6a" stroke="none" stroke-width="0" />
<rect x="969.8" y="1107.0" width="7.0" height="4.2" fill="#6a6a6a" stroke="none" stroke-width="0" />
<line x1="968.5" y1="1083.0" x2="968.5" y2="1088.5" stroke="#000" stroke-width="2.4" />
<line x1="968.5" y1="1106.5" x2="968.5" y2="1112.0" stroke="#000" stroke-width="2.4" />
<rect x="1146.0" y="1082.8" width="35.4" height="6.2" fill="#7e7e7e" stroke="#000" stroke-width="2.4" />
<rect x="1146.0" y="1106.0" width="35.4" height="6.4" fill="#7e7e7e" stroke="#000" stroke-width="2.4" />
<rect x="1147.2" y="1084.0" width="7.0" height="4.0" fill="#6a6a6a" stroke="none" stroke-width="0" />
<rect x="1147.2" y="1107.0" width="7.0" height="4.2" fill="#6a6a6a" stroke="none" stroke-width="0" />
<line x1="1155.5" y1="1083.0" x2="1155.5" y2="1088.5" stroke="#000" stroke-width="2.4" />
<line x1="1155.5" y1="1106.5" x2="1155.5" y2="1112.0" stroke="#000" stroke-width="2.4" />
<rect x="1728.0" y="1082.8" width="37.0" height="6.2" fill="#7e7e7e" stroke="#000" stroke-width="2.4" />
<rect x="1728.0" y="1106.0" width="37.0" height="6.4" fill="#7e7e7e" stroke="#000" stroke-width="2.4" />
<rect x="1756.8" y="1084.0" width="7.0" height="4.0" fill="#6a6a6a" stroke="none" stroke-width="0" />
<rect x="1756.8" y="1107.0" width="7.0" height="4.2" fill="#6a6a6a" stroke="none" stroke-width="0" />
<line x1="1755.5" y1="1083.0" x2="1755.5" y2="1088.5" stroke="#000" stroke-width="2.4" />
<line x1="1755.5" y1="1106.5" x2="1755.5" y2="1112.0" stroke="#000" stroke-width="2.4" />
<ellipse cx="502.2" cy="1085.2" rx="6.6" ry="4.6" fill="#7e7e7e" stroke="#000" stroke-width="2.2"/>
<ellipse cx="502.2" cy="1109" rx="6.6" ry="4.6" fill="#7e7e7e" stroke="#000" stroke-width="2.2"/>
<ellipse cx="817" cy="1085.2" rx="6.6" ry="4.6" fill="#7e7e7e" stroke="#000" stroke-width="2.2"/>
<ellipse cx="817" cy="1109" rx="6.6" ry="4.6" fill="#7e7e7e" stroke="#000" stroke-width="2.2"/>
<ellipse cx="1304.7" cy="1085.2" rx="6.6" ry="4.6" fill="#7e7e7e" stroke="#000" stroke-width="2.2"/>
<ellipse cx="1304.7" cy="1109" rx="6.6" ry="4.6" fill="#7e7e7e" stroke="#000" stroke-width="2.2"/>
<ellipse cx="1621" cy="1085.2" rx="6.6" ry="4.6" fill="#7e7e7e" stroke="#000" stroke-width="2.2"/>
<ellipse cx="1621" cy="1109" rx="6.6" ry="4.6" fill="#7e7e7e" stroke="#000" stroke-width="2.2"/>
<rect x="274.8" y="1088.0" width="1571.2" height="18.8" fill="#000" stroke="none" stroke-width="0" />
<rect x="277.0" y="1094.0" width="1567.0" height="2.2" fill="#808080" stroke="none" stroke-width="0" />
<rect x="277.0" y="1098.8" width="1567.0" height="2.6" fill="#808080" stroke="none" stroke-width="0" />
<path d="M328.8,1088 v-3 q0,-2.5 3,-2.5 h4 q3,0 3,2.5 v3 z" fill="#000" stroke="#000" stroke-width="1" />
<path d="M330.2,1106 v11.5 l3.6,4 l3.6,-4 v-11.5 z" fill="#000" stroke="#000" stroke-width="1" />
<line x1="335.4" y1="1113.0" x2="335.4" y2="1118.0" stroke="#ddd" stroke-width="1.2" />
<path d="M906.9,1088 v-3 q0,-2.5 3,-2.5 h4 q3,0 3,2.5 v3 z" fill="#000" stroke="#000" stroke-width="1" />
<path d="M908.3,1106 v11.5 l3.6,4 l3.6,-4 v-11.5 z" fill="#000" stroke="#000" stroke-width="1" />
<line x1="913.5" y1="1113.0" x2="913.5" y2="1118.0" stroke="#ddd" stroke-width="1.2" />
<path d="M1301,1088 v-3 q0,-2.5 3,-2.5 h4 q3,0 3,2.5 v3 z" fill="#000" stroke="#000" stroke-width="1" />
<path d="M1302.4,1106 v11.5 l3.6,4 l3.6,-4 v-11.5 z" fill="#000" stroke="#000" stroke-width="1" />
<line x1="1307.6" y1="1113.0" x2="1307.6" y2="1118.0" stroke="#ddd" stroke-width="1.2" />
<path d="M1798,1088 v-3 q0,-2.5 3,-2.5 h4 q3,0 3,2.5 v3 z" fill="#000" stroke="#000" stroke-width="1" />
<path d="M1799.4,1106 v11.5 l3.6,4 l3.6,-4 v-11.5 z" fill="#000" stroke="#000" stroke-width="1" />
<line x1="1804.6" y1="1113.0" x2="1804.6" y2="1118.0" stroke="#ddd" stroke-width="1.2" />
<path d="M281.5,1089 V1078 Q281.5,1075.5 284,1075.5 H286.5 Q289,1075.5 289,1078 V1089" fill="#7e7e7e" stroke="#000" stroke-width="2.4" />
<path d="M1838,1106 V1118 Q1838,1120 1840,1120 H1842 Q1844,1120 1844,1118 V1106" fill="#7e7e7e" stroke="#000" stroke-width="2.2" />
<path d="M277.0,258 H669.2 V621 C669.2,631 661.2,636 648.2,641 L545.0,688 C535.0,693 533.5,702 532.5,711 H416.5 C415.5,702 412.0,693 398.0,687 L298.0,641 C285.0,636 277.0,631 277.0,621 Z" fill="#3e3e3e" stroke="#000" stroke-width="3.2" stroke-linejoin="miter"/>
<ellipse cx="497.0" cy="707" rx="62" ry="42" fill="url(#gFun)" clip-path="url(#clipF0)"/>
<rect x="284.0" y="585.4" width="154.0" height="38.2" fill="url(#gSlot)" stroke="#000" stroke-width="3.2" />
<rect x="289.0" y="590.4" width="144.0" height="28.2" fill="none" stroke="#000" stroke-width="2.4" />
<path d="M289.0,590.4 L334.0,601.4 H388.0 L433.0,590.4 M289.0,618.4 L334.0,607.4 H388.0 L433.0,618.4" fill="none" stroke="#000" stroke-width="2.2" />
<path d="M296.0,596 L342.0,597.4 H380.0 L426.0,596 M296.0,613 L342.0,611.4 H380.0 L426.0,613" fill="none" stroke="#000" stroke-width="1.9" />
<rect x="506.7" y="585.4" width="160.0" height="38.2" fill="url(#gSlot)" stroke="#000" stroke-width="3.2" />
<rect x="511.7" y="590.4" width="150.0" height="28.2" fill="none" stroke="#000" stroke-width="2.4" />
<path d="M511.7,590.4 L556.7,601.4 H616.7 L661.7,590.4 M511.7,618.4 L556.7,607.4 H616.7 L661.7,618.4" fill="none" stroke="#000" stroke-width="2.2" />
<path d="M518.7,596 L564.7,597.4 H608.7 L654.7,596 M518.7,613 L564.7,611.4 H608.7 L654.7,613" fill="none" stroke="#000" stroke-width="1.9" />
<line x1="438.0" y1="604.4" x2="506.7" y2="604.4" stroke="#000" stroke-width="2.2" />
<rect x="418.0" y="313.0" width="20.8" height="81.5" fill="none" stroke="#000" stroke-width="3" rx="10.4" />
<text transform="translate(433.3,354) rotate(-90)" text-anchor="middle" font-size="15" font-weight="bold" fill="#000" stroke="#000" stroke-width="0.8" textLength="42" lengthAdjust="spacingAndGlyphs">32187</text>
<rect x="518.2" y="304.0" width="50.8" height="96.8" fill="none" stroke="#000" stroke-width="3" rx="7" />
<text transform="translate(536.6,353.8) rotate(-90)" text-anchor="middle" font-size="12.5" font-weight="bold" fill="#000" stroke="#000" stroke-width="1.3" textLength="68" lengthAdjust="spacingAndGlyphs">Lieferumfang:</text>
<text transform="translate(549.6,353) rotate(-90)" text-anchor="middle" font-size="12.5" font-weight="bold" fill="#000" stroke="#000" stroke-width="1.3" textLength="63" lengthAdjust="spacingAndGlyphs">Regenrohr-</text>
<text transform="translate(562.8,353.5) rotate(-90)" text-anchor="middle" font-size="12.5" font-weight="bold" fill="#000" stroke="#000" stroke-width="1.3" textLength="50" lengthAdjust="spacingAndGlyphs">Gehäuse</text>
<circle cx="472.6" cy="510.0" r="29.4" fill="none" stroke="#000" stroke-width="2.6"/>
<circle cx="472.6" cy="510.0" r="26.0" fill="none" stroke="#000" stroke-width="1.8"/>
<circle cx="472.6" cy="510.0" r="21.5" fill="none" stroke="#000" stroke-width="2.2"/>
<circle cx="472.6" cy="510.0" r="16.0" fill="none" stroke="#000" stroke-width="2.2"/>
<circle cx="472.6" cy="510.0" r="10.5" fill="none" stroke="#000" stroke-width="2.4"/>
<circle cx="472.6" cy="510.0" r="4.3" fill="#fff" stroke="none" stroke-width="0"/>
<path d="M416.0,711 H531.5 C539.0,712 546.0,717 546.0,726 H400.0 C400.0,717 407.0,712 416.0,711 Z" fill="url(#gCollar)" stroke="#000" stroke-width="2.6" />
<rect x="401.0" y="720.6" width="144.0" height="5.4" fill="#000" stroke="none" stroke-width="0" />
<rect x="377.3" y="726.0" width="191.0" height="7.0" fill="#707070" stroke="#000" stroke-width="2.4" />
<line x1="389.0" y1="729.5" x2="557.0" y2="729.5" stroke="#000" stroke-width="1.4" />
<path d="M669.2,258 H1061.5 V621 C1061.5,631 1053.5,636 1040.5,641 L937.2,688 C927.2,693 925.8,702 924.8,711 H808.8 C807.8,702 804.2,693 790.2,687 L690.2,641 C677.2,636 669.2,631 669.2,621 Z" fill="#3e3e3e" stroke="#000" stroke-width="3.2" stroke-linejoin="miter"/>
<ellipse cx="889.2" cy="707" rx="62" ry="42" fill="url(#gFun)" clip-path="url(#clipF1)"/>
<rect x="676.2" y="585.4" width="154.0" height="38.2" fill="url(#gSlot)" stroke="#000" stroke-width="3.2" />
<rect x="681.2" y="590.4" width="144.0" height="28.2" fill="none" stroke="#000" stroke-width="2.4" />
<path d="M681.2,590.4 L726.2,601.4 H780.2 L825.2,590.4 M681.2,618.4 L726.2,607.4 H780.2 L825.2,618.4" fill="none" stroke="#000" stroke-width="2.2" />
<path d="M688.2,596 L734.2,597.4 H772.2 L818.2,596 M688.2,613 L734.2,611.4 H772.2 L818.2,613" fill="none" stroke="#000" stroke-width="1.9" />
<rect x="899.0" y="585.4" width="160.0" height="38.2" fill="url(#gSlot)" stroke="#000" stroke-width="3.2" />
<rect x="904.0" y="590.4" width="150.0" height="28.2" fill="none" stroke="#000" stroke-width="2.4" />
<path d="M904.0,590.4 L949.0,601.4 H1009.0 L1054.0,590.4 M904.0,618.4 L949.0,607.4 H1009.0 L1054.0,618.4" fill="none" stroke="#000" stroke-width="2.2" />
<path d="M911.0,596 L957.0,597.4 H1001.0 L1047.0,596 M911.0,613 L957.0,611.4 H1001.0 L1047.0,613" fill="none" stroke="#000" stroke-width="1.9" />
<line x1="830.2" y1="604.4" x2="899.0" y2="604.4" stroke="#000" stroke-width="2.2" />
<rect x="810.2" y="313.0" width="20.8" height="81.5" fill="none" stroke="#000" stroke-width="3" rx="10.4" />
<text transform="translate(825.5,354) rotate(-90)" text-anchor="middle" font-size="15" font-weight="bold" fill="#000" stroke="#000" stroke-width="0.8" textLength="42" lengthAdjust="spacingAndGlyphs">32187</text>
<rect x="910.5" y="304.0" width="50.8" height="96.8" fill="none" stroke="#000" stroke-width="3" rx="7" />
<text transform="translate(928.9,353.8) rotate(-90)" text-anchor="middle" font-size="12.5" font-weight="bold" fill="#000" stroke="#000" stroke-width="1.3" textLength="68" lengthAdjust="spacingAndGlyphs">Lieferumfang:</text>
<text transform="translate(941.9,353) rotate(-90)" text-anchor="middle" font-size="12.5" font-weight="bold" fill="#000" stroke="#000" stroke-width="1.3" textLength="63" lengthAdjust="spacingAndGlyphs">Regenrohr-</text>
<text transform="translate(955.0,353.5) rotate(-90)" text-anchor="middle" font-size="12.5" font-weight="bold" fill="#000" stroke="#000" stroke-width="1.3" textLength="50" lengthAdjust="spacingAndGlyphs">Gehäuse</text>
<circle cx="864.9" cy="510.0" r="29.4" fill="none" stroke="#000" stroke-width="2.6"/>
<circle cx="864.9" cy="510.0" r="26.0" fill="none" stroke="#000" stroke-width="1.8"/>
<circle cx="864.9" cy="510.0" r="21.5" fill="none" stroke="#000" stroke-width="2.2"/>
<circle cx="864.9" cy="510.0" r="16.0" fill="none" stroke="#000" stroke-width="2.2"/>
<circle cx="864.9" cy="510.0" r="10.5" fill="none" stroke="#000" stroke-width="2.4"/>
<circle cx="864.9" cy="510.0" r="4.3" fill="#fff" stroke="none" stroke-width="0"/>
<path d="M808.2,711 H923.8 C931.2,712 938.2,717 938.2,726 H792.2 C792.2,717 799.2,712 808.2,711 Z" fill="url(#gCollar)" stroke="#000" stroke-width="2.6" />
<rect x="793.2" y="720.6" width="144.0" height="5.4" fill="#000" stroke="none" stroke-width="0" />
<rect x="769.5" y="726.0" width="191.0" height="7.0" fill="#707070" stroke="#000" stroke-width="2.4" />
<line x1="781.2" y1="729.5" x2="949.2" y2="729.5" stroke="#000" stroke-width="1.4" />
<path d="M1061.5,258 H1453.8 V621 C1453.8,631 1445.8,636 1432.8,641 L1329.5,688 C1319.5,693 1318.0,702 1317.0,711 H1201.0 C1200.0,702 1196.5,693 1182.5,687 L1082.5,641 C1069.5,636 1061.5,631 1061.5,621 Z" fill="#3e3e3e" stroke="#000" stroke-width="3.2" stroke-linejoin="miter"/>
<ellipse cx="1281.5" cy="707" rx="62" ry="42" fill="url(#gFun)" clip-path="url(#clipF2)"/>
<rect x="1068.5" y="585.4" width="154.0" height="38.2" fill="url(#gSlot)" stroke="#000" stroke-width="3.2" />
<rect x="1073.5" y="590.4" width="144.0" height="28.2" fill="none" stroke="#000" stroke-width="2.4" />
<path d="M1073.5,590.4 L1118.5,601.4 H1172.5 L1217.5,590.4 M1073.5,618.4 L1118.5,607.4 H1172.5 L1217.5,618.4" fill="none" stroke="#000" stroke-width="2.2" />
<path d="M1080.5,596 L1126.5,597.4 H1164.5 L1210.5,596 M1080.5,613 L1126.5,611.4 H1164.5 L1210.5,613" fill="none" stroke="#000" stroke-width="1.9" />
<rect x="1291.2" y="585.4" width="160.0" height="38.2" fill="url(#gSlot)" stroke="#000" stroke-width="3.2" />
<rect x="1296.2" y="590.4" width="150.0" height="28.2" fill="none" stroke="#000" stroke-width="2.4" />
<path d="M1296.2,590.4 L1341.2,601.4 H1401.2 L1446.2,590.4 M1296.2,618.4 L1341.2,607.4 H1401.2 L1446.2,618.4" fill="none" stroke="#000" stroke-width="2.2" />
<path d="M1303.2,596 L1349.2,597.4 H1393.2 L1439.2,596 M1303.2,613 L1349.2,611.4 H1393.2 L1439.2,613" fill="none" stroke="#000" stroke-width="1.9" />
<line x1="1222.5" y1="604.4" x2="1291.2" y2="604.4" stroke="#000" stroke-width="2.2" />
<rect x="1202.5" y="313.0" width="20.8" height="81.5" fill="none" stroke="#000" stroke-width="3" rx="10.4" />
<text transform="translate(1217.8,354) rotate(-90)" text-anchor="middle" font-size="15" font-weight="bold" fill="#000" stroke="#000" stroke-width="0.8" textLength="42" lengthAdjust="spacingAndGlyphs">32187</text>
<rect x="1302.7" y="304.0" width="50.8" height="96.8" fill="none" stroke="#000" stroke-width="3" rx="7" />
<text transform="translate(1321.1,353.8) rotate(-90)" text-anchor="middle" font-size="12.5" font-weight="bold" fill="#000" stroke="#000" stroke-width="1.3" textLength="68" lengthAdjust="spacingAndGlyphs">Lieferumfang:</text>
<text transform="translate(1334.1,353) rotate(-90)" text-anchor="middle" font-size="12.5" font-weight="bold" fill="#000" stroke="#000" stroke-width="1.3" textLength="63" lengthAdjust="spacingAndGlyphs">Regenrohr-</text>
<text transform="translate(1347.3,353.5) rotate(-90)" text-anchor="middle" font-size="12.5" font-weight="bold" fill="#000" stroke="#000" stroke-width="1.3" textLength="50" lengthAdjust="spacingAndGlyphs">Gehäuse</text>
<circle cx="1257.1" cy="510.0" r="29.4" fill="none" stroke="#000" stroke-width="2.6"/>
<circle cx="1257.1" cy="510.0" r="26.0" fill="none" stroke="#000" stroke-width="1.8"/>
<circle cx="1257.1" cy="510.0" r="21.5" fill="none" stroke="#000" stroke-width="2.2"/>
<circle cx="1257.1" cy="510.0" r="16.0" fill="none" stroke="#000" stroke-width="2.2"/>
<circle cx="1257.1" cy="510.0" r="10.5" fill="none" stroke="#000" stroke-width="2.4"/>
<circle cx="1257.1" cy="510.0" r="4.3" fill="#fff" stroke="none" stroke-width="0"/>
<path d="M1200.5,711 H1316.0 C1323.5,712 1330.5,717 1330.5,726 H1184.5 C1184.5,717 1191.5,712 1200.5,711 Z" fill="url(#gCollar)" stroke="#000" stroke-width="2.6" />
<rect x="1185.5" y="720.6" width="144.0" height="5.4" fill="#000" stroke="none" stroke-width="0" />
<rect x="1161.8" y="726.0" width="191.0" height="7.0" fill="#707070" stroke="#000" stroke-width="2.4" />
<line x1="1173.5" y1="729.5" x2="1341.5" y2="729.5" stroke="#000" stroke-width="1.4" />
<path d="M1453.8,258 H1846.0 V621 C1846.0,631 1838.0,636 1825.0,641 L1721.8,688 C1711.8,693 1710.2,702 1709.2,711 H1593.2 C1592.2,702 1588.8,693 1574.8,687 L1474.8,641 C1461.8,636 1453.8,631 1453.8,621 Z" fill="#3e3e3e" stroke="#000" stroke-width="3.2" stroke-linejoin="miter"/>
<ellipse cx="1673.8" cy="707" rx="62" ry="42" fill="url(#gFun)" clip-path="url(#clipF3)"/>
<rect x="1460.8" y="585.4" width="154.0" height="38.2" fill="url(#gSlot)" stroke="#000" stroke-width="3.2" />
<rect x="1465.8" y="590.4" width="144.0" height="28.2" fill="none" stroke="#000" stroke-width="2.4" />
<path d="M1465.8,590.4 L1510.8,601.4 H1564.8 L1609.8,590.4 M1465.8,618.4 L1510.8,607.4 H1564.8 L1609.8,618.4" fill="none" stroke="#000" stroke-width="2.2" />
<path d="M1472.8,596 L1518.8,597.4 H1556.8 L1602.8,596 M1472.8,613 L1518.8,611.4 H1556.8 L1602.8,613" fill="none" stroke="#000" stroke-width="1.9" />
<rect x="1683.5" y="585.4" width="160.0" height="38.2" fill="url(#gSlot)" stroke="#000" stroke-width="3.2" />
<rect x="1688.5" y="590.4" width="150.0" height="28.2" fill="none" stroke="#000" stroke-width="2.4" />
<path d="M1688.5,590.4 L1733.5,601.4 H1793.5 L1838.5,590.4 M1688.5,618.4 L1733.5,607.4 H1793.5 L1838.5,618.4" fill="none" stroke="#000" stroke-width="2.2" />
<path d="M1695.5,596 L1741.5,597.4 H1785.5 L1831.5,596 M1695.5,613 L1741.5,611.4 H1785.5 L1831.5,613" fill="none" stroke="#000" stroke-width="1.9" />
<line x1="1614.8" y1="604.4" x2="1683.5" y2="604.4" stroke="#000" stroke-width="2.2" />
<rect x="1594.8" y="313.0" width="20.8" height="81.5" fill="none" stroke="#000" stroke-width="3" rx="10.4" />
<text transform="translate(1610.0,354) rotate(-90)" text-anchor="middle" font-size="15" font-weight="bold" fill="#000" stroke="#000" stroke-width="0.8" textLength="42" lengthAdjust="spacingAndGlyphs">32187</text>
<rect x="1695.0" y="304.0" width="50.8" height="96.8" fill="none" stroke="#000" stroke-width="3" rx="7" />
<text transform="translate(1713.3,353.8) rotate(-90)" text-anchor="middle" font-size="12.5" font-weight="bold" fill="#000" stroke="#000" stroke-width="1.3" textLength="68" lengthAdjust="spacingAndGlyphs">Lieferumfang:</text>
<text transform="translate(1726.3,353) rotate(-90)" text-anchor="middle" font-size="12.5" font-weight="bold" fill="#000" stroke="#000" stroke-width="1.3" textLength="63" lengthAdjust="spacingAndGlyphs">Regenrohr-</text>
<text transform="translate(1739.5,353.5) rotate(-90)" text-anchor="middle" font-size="12.5" font-weight="bold" fill="#000" stroke="#000" stroke-width="1.3" textLength="50" lengthAdjust="spacingAndGlyphs">Gehäuse</text>
<circle cx="1649.3" cy="510.0" r="29.4" fill="none" stroke="#000" stroke-width="2.6"/>
<circle cx="1649.3" cy="510.0" r="26.0" fill="none" stroke="#000" stroke-width="1.8"/>
<circle cx="1649.3" cy="510.0" r="21.5" fill="none" stroke="#000" stroke-width="2.2"/>
<circle cx="1649.3" cy="510.0" r="16.0" fill="none" stroke="#000" stroke-width="2.2"/>
<circle cx="1649.3" cy="510.0" r="10.5" fill="none" stroke="#000" stroke-width="2.4"/>
<circle cx="1649.3" cy="510.0" r="4.3" fill="#fff" stroke="none" stroke-width="0"/>
<path d="M1592.8,711 H1708.2 C1715.8,712 1722.8,717 1722.8,726 H1576.8 C1576.8,717 1583.8,712 1592.8,711 Z" fill="url(#gCollar)" stroke="#000" stroke-width="2.6" />
<rect x="1577.8" y="720.6" width="144.0" height="5.4" fill="#000" stroke="none" stroke-width="0" />
<rect x="1554.0" y="726.0" width="191.0" height="7.0" fill="#707070" stroke="#000" stroke-width="2.4" />
<line x1="1565.8" y1="729.5" x2="1733.8" y2="729.5" stroke="#000" stroke-width="1.4" />
<line x1="669.2" y1="258.0" x2="669.2" y2="622.0" stroke="#000" stroke-width="4.6" />
<line x1="1061.5" y1="258.0" x2="1061.5" y2="622.0" stroke="#000" stroke-width="4.6" />
<line x1="1453.8" y1="258.0" x2="1453.8" y2="622.0" stroke="#000" stroke-width="4.6" />
<line x1="279.3" y1="258.0" x2="279.3" y2="621.0" stroke="#000" stroke-width="4.4" />
<rect x="259.0" y="300.5" width="40.0" height="31.5" fill="#3e3e3e" stroke="#000" stroke-width="2.6" rx="7" />
<rect x="264.0" y="305.0" width="28.0" height="22.5" fill="none" stroke="#000" stroke-width="1.8" rx="4" />
<line x1="275.5" y1="300.0" x2="275.5" y2="332.0" stroke="#000" stroke-width="4.6" />
<path d="M668.2,300.5 H683.2 Q691.2,300.5 691.2,308 V324 Q691.2,332 683.2,332 H668.2" fill="none" stroke="#000" stroke-width="2.6" />
<path d="M670.8,305.5 H681.2 Q686.2,305.5 686.2,310 V322 Q686.2,327 681.2,327 H670.8" fill="#3e3e3e" stroke="#000" stroke-width="1.8" />
<path d="M1060.5,300.5 H1075.5 Q1083.5,300.5 1083.5,308 V324 Q1083.5,332 1075.5,332 H1060.5" fill="none" stroke="#000" stroke-width="2.6" />
<path d="M1063.0,305.5 H1073.5 Q1078.5,305.5 1078.5,310 V322 Q1078.5,327 1073.5,327 H1063.0" fill="#3e3e3e" stroke="#000" stroke-width="1.8" />
<path d="M1452.8,300.5 H1467.8 Q1475.8,300.5 1475.8,308 V324 Q1475.8,332 1467.8,332 H1452.8" fill="none" stroke="#000" stroke-width="2.6" />
<path d="M1455.2,305.5 H1465.8 Q1470.8,305.5 1470.8,310 V322 Q1470.8,327 1465.8,327 H1455.2" fill="#3e3e3e" stroke="#000" stroke-width="1.8" />
<rect x="1849.0" y="304.0" width="14.0" height="25.0" fill="#444" stroke="#000" stroke-width="2.4" rx="3" />
<rect x="2348.5" y="770.2" width="20.0" height="289.0" fill="#787878" stroke="#000" stroke-width="2.4" />
<rect x="2356.2" y="1059.2" width="12.3" height="30.5" fill="#787878" stroke="#000" stroke-width="2.2" />
<path d="M2368.3,790 L2353.0,825 M2353.0,772 V1058" fill="none" stroke="#000" stroke-width="1.6" />
<rect x="2350.5" y="1133.5" width="17.7" height="289.4" fill="#787878" stroke="#000" stroke-width="2.4" />
<rect x="2351.7" y="1339.0" width="15.3" height="82.7" fill="url(#gLow)" stroke="none" stroke-width="0" />
<rect x="2356.0" y="1105.0" width="12.2" height="28.5" fill="#787878" stroke="#000" stroke-width="2.2" />
<line x1="2350.5" y1="1339.0" x2="2368.2" y2="1339.0" stroke="#000" stroke-width="2" />
<rect x="2727.3" y="770.2" width="20.0" height="289.0" fill="#787878" stroke="#000" stroke-width="2.4" />
<rect x="2727.3" y="1059.2" width="12.3" height="30.5" fill="#787878" stroke="#000" stroke-width="2.2" />
<path d="M2727.5,790 L2742.8,825 M2742.8,772 V1058" fill="none" stroke="#000" stroke-width="1.6" />
<rect x="2727.6" y="1133.5" width="17.7" height="289.4" fill="#787878" stroke="#000" stroke-width="2.4" />
<rect x="2728.8" y="1339.0" width="15.3" height="82.7" fill="url(#gLow)" stroke="none" stroke-width="0" />
<rect x="2727.6" y="1105.0" width="12.2" height="28.5" fill="#787878" stroke="#000" stroke-width="2.2" />
<line x1="2745.3" y1="1339.0" x2="2727.6" y2="1339.0" stroke="#000" stroke-width="2" />
<path d="M2386.6,726.4 H2709.8 V733.4 H2707.3 V763 H2726.4 V1089.7 H2751 V1104.6 H2727.6 V1431.8 H2706 V1461 H2389.8 V1431.8 H2368.2 V1104.6 H2345.4 V1089.7 H2368.3 V763 H2388.2 V733.4 H2386.6 Z M2469.4,778.6 H2626.6 A77,77 0 0 1 2703.6,855.6 V1339.5 A77,77 0 0 1 2626.6,1416.5 H2469.4 A77,77 0 0 1 2392.4,1339.5 V855.6 A77,77 0 0 1 2469.4,778.6 Z" fill="#787878" stroke="#000" stroke-width="3" fill-rule="evenodd"/>
<line x1="2388.2" y1="733.4" x2="2707.3" y2="733.4" stroke="#000" stroke-width="2.2" />
<rect x="2489.2" y="778.6" width="117.6" height="47.1" fill="url(#gPipe)" stroke="#000" stroke-width="2.6" />
<rect x="2545.8" y="778.6" width="6.5" height="47.1" fill="#000" stroke="none" stroke-width="0" />
<path d="M2469.4,773.8 H2626.6 A81.8,81.8 0 0 1 2708.4,855.6 V1341.2 A81.8,81.8 0 0 1 2626.6,1423.0 H2469.4 A81.8,81.8 0 0 1 2387.6,1341.2 V855.6 A81.8,81.8 0 0 1 2469.4,773.8 Z" fill="none" stroke="#000" stroke-width="1.8" />
<path d="M2469.4,769.3 H2626.6 A86.3,86.3 0 0 1 2712.9,855.6 V1342.8 A86.3,86.3 0 0 1 2626.6,1429.1 H2469.4 A86.3,86.3 0 0 1 2383.1,1342.8 V855.6 A86.3,86.3 0 0 1 2469.4,769.3 Z" fill="none" stroke="#000" stroke-width="2.4" />
<line x1="2345.4" y1="1097.0" x2="2392.0" y2="1097.0" stroke="#000" stroke-width="1.6" />
<line x1="2368.3" y1="1089.7" x2="2392.0" y2="1089.7" stroke="#000" stroke-width="2.4" />
<line x1="2368.3" y1="1104.6" x2="2392.0" y2="1104.6" stroke="#000" stroke-width="2.4" />
<line x1="2376.0" y1="1104.6" x2="2376.0" y2="1330.0" stroke="#000" stroke-width="1.6" />
<line x1="2380.5" y1="800.0" x2="2380.5" y2="1089.0" stroke="#000" stroke-width="1.4" />
<line x1="2392.0" y1="1016.5" x2="2398.0" y2="1016.5" stroke="#000" stroke-width="2.4" />
<line x1="2392.0" y1="1178.0" x2="2398.0" y2="1178.0" stroke="#000" stroke-width="2.4" />
<ellipse cx="2405.7" cy="724.5" rx="7" ry="3.4" fill="#333" stroke="#000" stroke-width="1.5"/>
<line x1="2750.4" y1="1097.0" x2="2703.8" y2="1097.0" stroke="#000" stroke-width="1.6" />
<line x1="2727.5" y1="1089.7" x2="2703.8" y2="1089.7" stroke="#000" stroke-width="2.4" />
<line x1="2727.5" y1="1104.6" x2="2703.8" y2="1104.6" stroke="#000" stroke-width="2.4" />
<line x1="2719.8" y1="1104.6" x2="2719.8" y2="1330.0" stroke="#000" stroke-width="1.6" />
<line x1="2715.3" y1="800.0" x2="2715.3" y2="1089.0" stroke="#000" stroke-width="1.4" />
<line x1="2703.8" y1="1016.5" x2="2697.8" y2="1016.5" stroke="#000" stroke-width="2.4" />
<line x1="2703.8" y1="1178.0" x2="2697.8" y2="1178.0" stroke="#000" stroke-width="2.4" />
<ellipse cx="2690.1" cy="724.5" rx="7" ry="3.4" fill="#333" stroke="#000" stroke-width="1.5"/>
<path d="M2507,257.5 H2589 V604.5 H2507 Z" fill="#3e3e3e" stroke="#000" stroke-width="3" />
<path d="M2507.7,604.5 H2589 V617 L2606.4,710 V714 H2489.4 V710 L2507.7,617 Z" fill="url(#gCone)" stroke="#000" stroke-width="2.6" />
<path d="M2512,620 C2520,660 2542,690 2543,714 M2584,620 C2576,660 2566,690 2564,714" fill="none" stroke="#000" stroke-width="1.8" />
<path d="M2507,589.6 L2461.5,594 L2451.9,604.5 L2461.5,615 L2507,619.3 Z" fill="url(#gFin)" stroke="#000" stroke-width="2.6" />
<path d="M2461.5,726.4 V717 Q2462,711.6 2468,711.6 H2497 Q2503.3,711.6 2503.3,717 V726.4 Z" fill="#6c6c6c" stroke="#000" stroke-width="2.4" />
<path d="M2589,589.6 L2634.4,594 L2644.0,604.5 L2634.4,615 L2589,619.3 Z" fill="url(#gFin)" stroke="#000" stroke-width="2.6" />
<path d="M2593.9,726.4 V717 Q2594,711.6 2600,711.6 H2628 Q2634.8,711.6 2634.8,717 V726.4 Z" fill="#8a8a8a" stroke="#000" stroke-width="2.4" />
<rect x="2503.3" y="714.0" width="90.6" height="12.4" fill="#4a4a4a" stroke="#000" stroke-width="2.2" />
<rect x="2547.7" y="300.0" width="6.1" height="427.0" fill="#000" stroke="none" stroke-width="0" />
<rect x="2544.8" y="257.5" width="4.0" height="45.5" fill="#000" stroke="none" stroke-width="0" />
<path d="M2507,301 H2518 Q2526,301 2526,309 V323 Q2526,331 2518,331 H2507" fill="none" stroke="#000" stroke-width="2.6" />
<path d="M2507,307 H2515 Q2520,307 2520,312 V320 Q2520,325 2515,325 H2507" fill="none" stroke="#000" stroke-width="2" />
<path d="M2589,301 H2577 Q2567.4,301 2567.4,309 V323 Q2567.4,331 2577,331 H2589" fill="none" stroke="#000" stroke-width="2.6" />
<rect x="2574.0" y="307.0" width="15.0" height="18.0" fill="none" stroke="#000" stroke-width="2" rx="3" />
<line x1="275.5" y1="103.0" x2="275.5" y2="758.0" stroke="#000" stroke-width="4.6" stroke-linecap="round"/>
<line x1="1848.3" y1="103.0" x2="1848.3" y2="764.0" stroke="#000" stroke-width="4.6" stroke-linecap="round"/>
<line x1="275.5" y1="115.4" x2="1848.3" y2="115.4" stroke="#000" stroke-width="4.6" stroke-linecap="round"/>
<polygon points="277.0,115.4 349.0,102.0 349.0,128.8" fill="#000" stroke="#000" stroke-width="1.6" stroke-linejoin="round"/>
<polygon points="1847.0,115.4 1775.0,102.0 1775.0,128.8" fill="#000" stroke="#000" stroke-width="1.6" stroke-linejoin="round"/>
<line x1="103.5" y1="258.4" x2="268.0" y2="258.4" stroke="#000" stroke-width="4.6" stroke-linecap="round"/>
<line x1="103.5" y1="1461.5" x2="287.5" y2="1461.5" stroke="#000" stroke-width="4.6" stroke-linecap="round"/>
<line x1="115.2" y1="258.4" x2="115.2" y2="1461.5" stroke="#000" stroke-width="4.6" stroke-linecap="round"/>
<polygon points="115.2,259.5 101.8,331.5 128.6,331.5" fill="#000" stroke="#000" stroke-width="1.6" stroke-linejoin="round"/>
<polygon points="115.2,1460.5 101.8,1388.5 128.6,1388.5" fill="#000" stroke="#000" stroke-width="1.6" stroke-linejoin="round"/>
<line x1="1859.0" y1="258.4" x2="2023.0" y2="258.4" stroke="#000" stroke-width="4.6" stroke-linecap="round"/>
<line x1="1835.0" y1="1461.5" x2="2021.0" y2="1461.5" stroke="#000" stroke-width="4.6" stroke-linecap="round"/>
<line x1="2007.7" y1="258.4" x2="2007.7" y2="1461.5" stroke="#000" stroke-width="4.6" stroke-linecap="round"/>
<polygon points="2007.7,259.5 1994.3,331.5 2021.1,331.5" fill="#000" stroke="#000" stroke-width="1.6" stroke-linejoin="round"/>
<polygon points="2007.7,1460.5 1994.3,1388.5 2021.1,1388.5" fill="#000" stroke="#000" stroke-width="1.6" stroke-linejoin="round"/>
<line x1="1847.5" y1="1435.0" x2="1847.5" y2="2039.0" stroke="#000" stroke-width="4.6" stroke-linecap="round"/>
<line x1="2414.0" y1="115.4" x2="2824.0" y2="115.4" stroke="#000" stroke-width="4.6" stroke-linecap="round"/>
<line x1="2508.4" y1="103.0" x2="2508.4" y2="246.0" stroke="#000" stroke-width="4.6" stroke-linecap="round"/>
<line x1="2587.6" y1="103.0" x2="2587.6" y2="246.0" stroke="#000" stroke-width="4.6" stroke-linecap="round"/>
<polygon points="2507.0,115.4 2435.0,102.0 2435.0,128.8" fill="#000" stroke="#000" stroke-width="1.6" stroke-linejoin="round"/>
<polygon points="2589.0,115.4 2661.0,102.0 2661.0,128.8" fill="#000" stroke="#000" stroke-width="1.6" stroke-linejoin="round"/>
<line x1="2245.0" y1="258.4" x2="2496.0" y2="258.4" stroke="#000" stroke-width="4.6" stroke-linecap="round"/>
<line x1="2245.0" y1="727.3" x2="2375.0" y2="727.3" stroke="#000" stroke-width="4.6" stroke-linecap="round"/>
<line x1="2256.3" y1="258.4" x2="2256.3" y2="727.3" stroke="#000" stroke-width="4.6" stroke-linecap="round"/>
<polygon points="2256.3,259.5 2242.9,331.5 2269.7,331.5" fill="#000" stroke="#000" stroke-width="1.6" stroke-linejoin="round"/>
<polygon points="2256.3,726.2 2242.9,654.2 2269.7,654.2" fill="#000" stroke="#000" stroke-width="1.6" stroke-linejoin="round"/>
<line x1="2600.0" y1="258.4" x2="2902.0" y2="258.4" stroke="#000" stroke-width="4.6" stroke-linecap="round"/>
<line x1="2644.0" y1="1417.8" x2="2902.0" y2="1417.8" stroke="#000" stroke-width="4.6" stroke-linecap="round"/>
<line x1="2891.6" y1="258.4" x2="2891.6" y2="1417.8" stroke="#000" stroke-width="4.6" stroke-linecap="round"/>
<polygon points="2891.6,259.5 2878.2,331.5 2905.0,331.5" fill="#000" stroke="#000" stroke-width="1.6" stroke-linejoin="round"/>
<polygon points="2891.6,1416.7 2878.2,1344.7 2905.0,1344.7" fill="#000" stroke="#000" stroke-width="1.6" stroke-linejoin="round"/>
<line x1="289.5" y1="1602.5" x2="995.5" y2="1602.5" stroke="#000" stroke-width="4.6" stroke-linecap="round"/>
<line x1="728.6" y1="1338.0" x2="728.6" y2="1614.0" stroke="#000" stroke-width="4.6" stroke-linecap="round"/>
<line x1="901.5" y1="1338.0" x2="901.5" y2="1614.0" stroke="#000" stroke-width="4.6" stroke-linecap="round"/>
<polygon points="727.2,1602.5 655.2,1589.1 655.2,1615.9" fill="#000" stroke="#000" stroke-width="1.6" stroke-linejoin="round"/>
<polygon points="903.0,1602.5 975.0,1589.1 975.0,1615.9" fill="#000" stroke="#000" stroke-width="1.6" stroke-linejoin="round"/>
<line x1="815.6" y1="1249.0" x2="815.6" y2="2038.0" stroke="#000" stroke-width="4.2" stroke-linecap="round"/>
<line x1="815.6" y1="2028.5" x2="1847.5" y2="2028.5" stroke="#000" stroke-width="4.6" stroke-linecap="round"/>
<polygon points="817.0,2028.5 889.0,2015.1 889.0,2041.9" fill="#000" stroke="#000" stroke-width="1.6" stroke-linejoin="round"/>
<polygon points="1846.0,2028.5 1774.0,2015.1 1774.0,2041.9" fill="#000" stroke="#000" stroke-width="1.6" stroke-linejoin="round"/>
<line x1="1085.0" y1="1602.5" x2="1810.0" y2="1602.5" stroke="#000" stroke-width="4.6" stroke-linecap="round"/>
<line x1="1543.2" y1="1467.5" x2="1543.2" y2="1614.0" stroke="#000" stroke-width="4.6" stroke-linecap="round"/>
<line x1="1716.6" y1="1467.5" x2="1716.6" y2="1614.0" stroke="#000" stroke-width="4.6" stroke-linecap="round"/>
<polygon points="1541.8,1602.5 1469.8,1589.1 1469.8,1615.9" fill="#000" stroke="#000" stroke-width="1.6" stroke-linejoin="round"/>
<polygon points="1718.0,1602.5 1790.0,1589.1 1790.0,1615.9" fill="#000" stroke="#000" stroke-width="1.6" stroke-linejoin="round"/>
<line x1="1085.0" y1="1745.0" x2="1849.5" y2="1745.0" stroke="#000" stroke-width="4.6" stroke-linecap="round"/>
<line x1="1505.1" y1="1467.5" x2="1505.1" y2="1756.5" stroke="#000" stroke-width="4.6" stroke-linecap="round"/>
<line x1="1755.6" y1="1467.5" x2="1755.6" y2="1756.5" stroke="#000" stroke-width="4.6" stroke-linecap="round"/>
<polygon points="1503.7,1745.0 1431.7,1731.6 1431.7,1758.4" fill="#000" stroke="#000" stroke-width="1.6" stroke-linejoin="round"/>
<polygon points="1757.0,1745.0 1829.0,1731.6 1829.0,1758.4" fill="#000" stroke="#000" stroke-width="1.6" stroke-linejoin="round"/>
<line x1="1536.5" y1="1886.5" x2="1941.0" y2="1886.5" stroke="#000" stroke-width="4.6" stroke-linecap="round"/>
<line x1="1629.1" y1="1398.0" x2="1629.1" y2="1478.0" stroke="#000" stroke-width="4.2" stroke-linecap="round"/>
<line x1="1629.1" y1="1491.0" x2="1629.1" y2="1898.5" stroke="#000" stroke-width="4.2" stroke-linecap="round"/>
<polygon points="1627.7,1886.5 1555.7,1873.1 1555.7,1899.9" fill="#000" stroke="#000" stroke-width="1.6" stroke-linejoin="round"/>
<polygon points="1849.0,1886.5 1921.0,1873.1 1921.0,1899.9" fill="#000" stroke="#000" stroke-width="1.6" stroke-linejoin="round"/>
<line x1="2389.8" y1="1109.0" x2="2389.8" y2="1614.0" stroke="#000" stroke-width="4.6" stroke-linecap="round"/>
<line x1="2705.9" y1="1109.0" x2="2705.9" y2="1614.0" stroke="#000" stroke-width="4.6" stroke-linecap="round"/>
<line x1="2389.8" y1="1602.6" x2="2705.9" y2="1602.6" stroke="#000" stroke-width="4.6" stroke-linecap="round"/>
<polygon points="2391.2,1602.6 2463.2,1589.2 2463.2,1616.0" fill="#000" stroke="#000" stroke-width="1.6" stroke-linejoin="round"/>
<polygon points="2704.5,1602.6 2632.5,1589.2 2632.5,1616.0" fill="#000" stroke="#000" stroke-width="1.6" stroke-linejoin="round"/>
<line x1="2346.6" y1="1109.0" x2="2346.6" y2="1755.5" stroke="#000" stroke-width="4.6" stroke-linecap="round"/>
<line x1="2749.1" y1="1109.0" x2="2749.1" y2="1755.5" stroke="#000" stroke-width="4.6" stroke-linecap="round"/>
<line x1="2346.6" y1="1744.3" x2="2749.1" y2="1744.3" stroke="#000" stroke-width="4.6" stroke-linecap="round"/>
<polygon points="2348.0,1744.3 2420.0,1730.9 2420.0,1757.7" fill="#000" stroke="#000" stroke-width="1.6" stroke-linejoin="round"/>
<polygon points="2747.7,1744.3 2675.7,1730.9 2675.7,1757.7" fill="#000" stroke="#000" stroke-width="1.6" stroke-linejoin="round"/>
<clipPath id="c_t1000" clipPathUnits="userSpaceOnUse"><path clip-rule="evenodd" d="M-60,-160 H900 V70 H-60 Z M3.01,-15.17 H23.20 V8 H3.01 Z M44.45,-15.17 H63.19 V8 H44.45 Z"/></clipPath>
<text id="t1000" clip-path="url(#c_t1000)" transform="translate(947.00,88.00) scale(0.842,1)" font-size="112" font-weight="bold" letter-spacing="6.3" fill="#000" stroke="#000" stroke-width="5.7" stroke-linejoin="miter" stroke-miterlimit="3" xml:space="preserve">1000</text>
<text id="t50" transform="translate(2682.70,87.50) scale(0.842,1)" font-size="112" font-weight="bold" letter-spacing="6.3" fill="#000" stroke="#000" stroke-width="5.7" stroke-linejoin="miter" stroke-miterlimit="3" xml:space="preserve">50</text>
<text id="t765l" transform="translate(85.00,944.50) rotate(-90) scale(0.842,1)" font-size="112" font-weight="bold" letter-spacing="6.3" fill="#000" stroke="#000" stroke-width="5.7" stroke-linejoin="miter" stroke-miterlimit="3" xml:space="preserve">765</text>
<text id="t765r" transform="translate(1977.00,944.80) rotate(-90) scale(0.842,1)" font-size="112" font-weight="bold" letter-spacing="6.3" fill="#000" stroke="#000" stroke-width="5.7" stroke-linejoin="miter" stroke-miterlimit="3" xml:space="preserve">765</text>
<text id="t300" transform="translate(2225.20,576.20) rotate(-90) scale(0.842,1)" font-size="112" font-weight="bold" letter-spacing="6.3" fill="#000" stroke="#000" stroke-width="5.7" stroke-linejoin="miter" stroke-miterlimit="3" xml:space="preserve">300</text>
<text id="t737" transform="translate(2861.00,921.40) rotate(-90) scale(0.842,1)" font-size="112" font-weight="bold" letter-spacing="6.3" fill="#000" stroke="#000" stroke-width="5.7" stroke-linejoin="miter" stroke-miterlimit="3" xml:space="preserve">737</text>
<clipPath id="c_tdn1" clipPathUnits="userSpaceOnUse"><path clip-rule="evenodd" d="M-60,-160 H900 V70 H-60 Z M192.71,-15.17 H212.90 V8 H192.71 Z M234.16,-15.17 H252.89 V8 H234.16 Z M257.42,-15.17 H277.61 V8 H257.42 Z M298.86,-15.17 H317.60 V8 H298.86 Z"/></clipPath>
<text id="tdn1" clip-path="url(#c_tdn1)" transform="translate(319.60,1574.20) scale(0.842,1)" font-size="112" font-weight="bold" letter-spacing="8.6" fill="#000" stroke="#000" stroke-width="5.7" stroke-linejoin="miter" stroke-miterlimit="3" xml:space="preserve"><tspan textLength="150" lengthAdjust="spacingAndGlyphs">DN</tspan><tspan dx="0"> 110</tspan></text>
<clipPath id="c_tdn2" clipPathUnits="userSpaceOnUse"><path clip-rule="evenodd" d="M-60,-160 H900 V70 H-60 Z M192.71,-15.17 H212.90 V8 H192.71 Z M234.16,-15.17 H252.89 V8 H234.16 Z M257.42,-15.17 H277.61 V8 H257.42 Z M298.86,-15.17 H317.60 V8 H298.86 Z"/></clipPath>
<text id="tdn2" clip-path="url(#c_tdn2)" transform="translate(1114.50,1574.20) scale(0.842,1)" font-size="112" font-weight="bold" letter-spacing="8.6" fill="#000" stroke="#000" stroke-width="5.7" stroke-linejoin="miter" stroke-miterlimit="3" xml:space="preserve"><tspan textLength="150" lengthAdjust="spacingAndGlyphs">DN</tspan><tspan dx="0"> 110</tspan></text>
<clipPath id="c_tdn3" clipPathUnits="userSpaceOnUse"><path clip-rule="evenodd" d="M-60,-160 H900 V70 H-60 Z M192.22,-15.17 H212.41 V8 H192.22 Z M233.66,-15.17 H252.40 V8 H233.66 Z"/></clipPath>
<text id="tdn3" clip-path="url(#c_tdn3)" transform="translate(1114.70,1716.00) scale(0.842,1)" font-size="112" font-weight="bold" letter-spacing="6.6" fill="#000" stroke="#000" stroke-width="5.7" stroke-linejoin="miter" stroke-miterlimit="3" xml:space="preserve"><tspan textLength="150" lengthAdjust="spacingAndGlyphs">DN</tspan><tspan dx="1.5"> 160</tspan></text>
<clipPath id="c_t138" clipPathUnits="userSpaceOnUse"><path clip-rule="evenodd" d="M-60,-160 H900 V70 H-60 Z M3.01,-15.17 H23.20 V8 H3.01 Z M44.45,-15.17 H63.19 V8 H44.45 Z"/></clipPath>
<text id="t138" clip-path="url(#c_t138)" transform="translate(1652.10,1859.40) scale(0.842,1)" font-size="112" font-weight="bold" letter-spacing="6.3" fill="#000" stroke="#000" stroke-width="5.7" stroke-linejoin="miter" stroke-miterlimit="3" xml:space="preserve">138</text>
<text id="t656" transform="translate(1245.40,2002.20) scale(0.842,1)" font-size="112" font-weight="bold" letter-spacing="6.3" fill="#000" stroke="#000" stroke-width="5.7" stroke-linejoin="miter" stroke-miterlimit="3" xml:space="preserve">656</text>
<text id="t200" transform="translate(2462.70,1574.80) scale(0.842,1)" font-size="112" font-weight="bold" letter-spacing="6.3" fill="#000" stroke="#000" stroke-width="5.7" stroke-linejoin="miter" stroke-miterlimit="3" xml:space="preserve">200</text>
<text id="t256" transform="translate(2462.20,1718.20) scale(0.842,1)" font-size="112" font-weight="bold" letter-spacing="6.3" fill="#000" stroke="#000" stroke-width="5.7" stroke-linejoin="miter" stroke-miterlimit="3" xml:space="preserve">256</text>
</svg>
</body></html>
